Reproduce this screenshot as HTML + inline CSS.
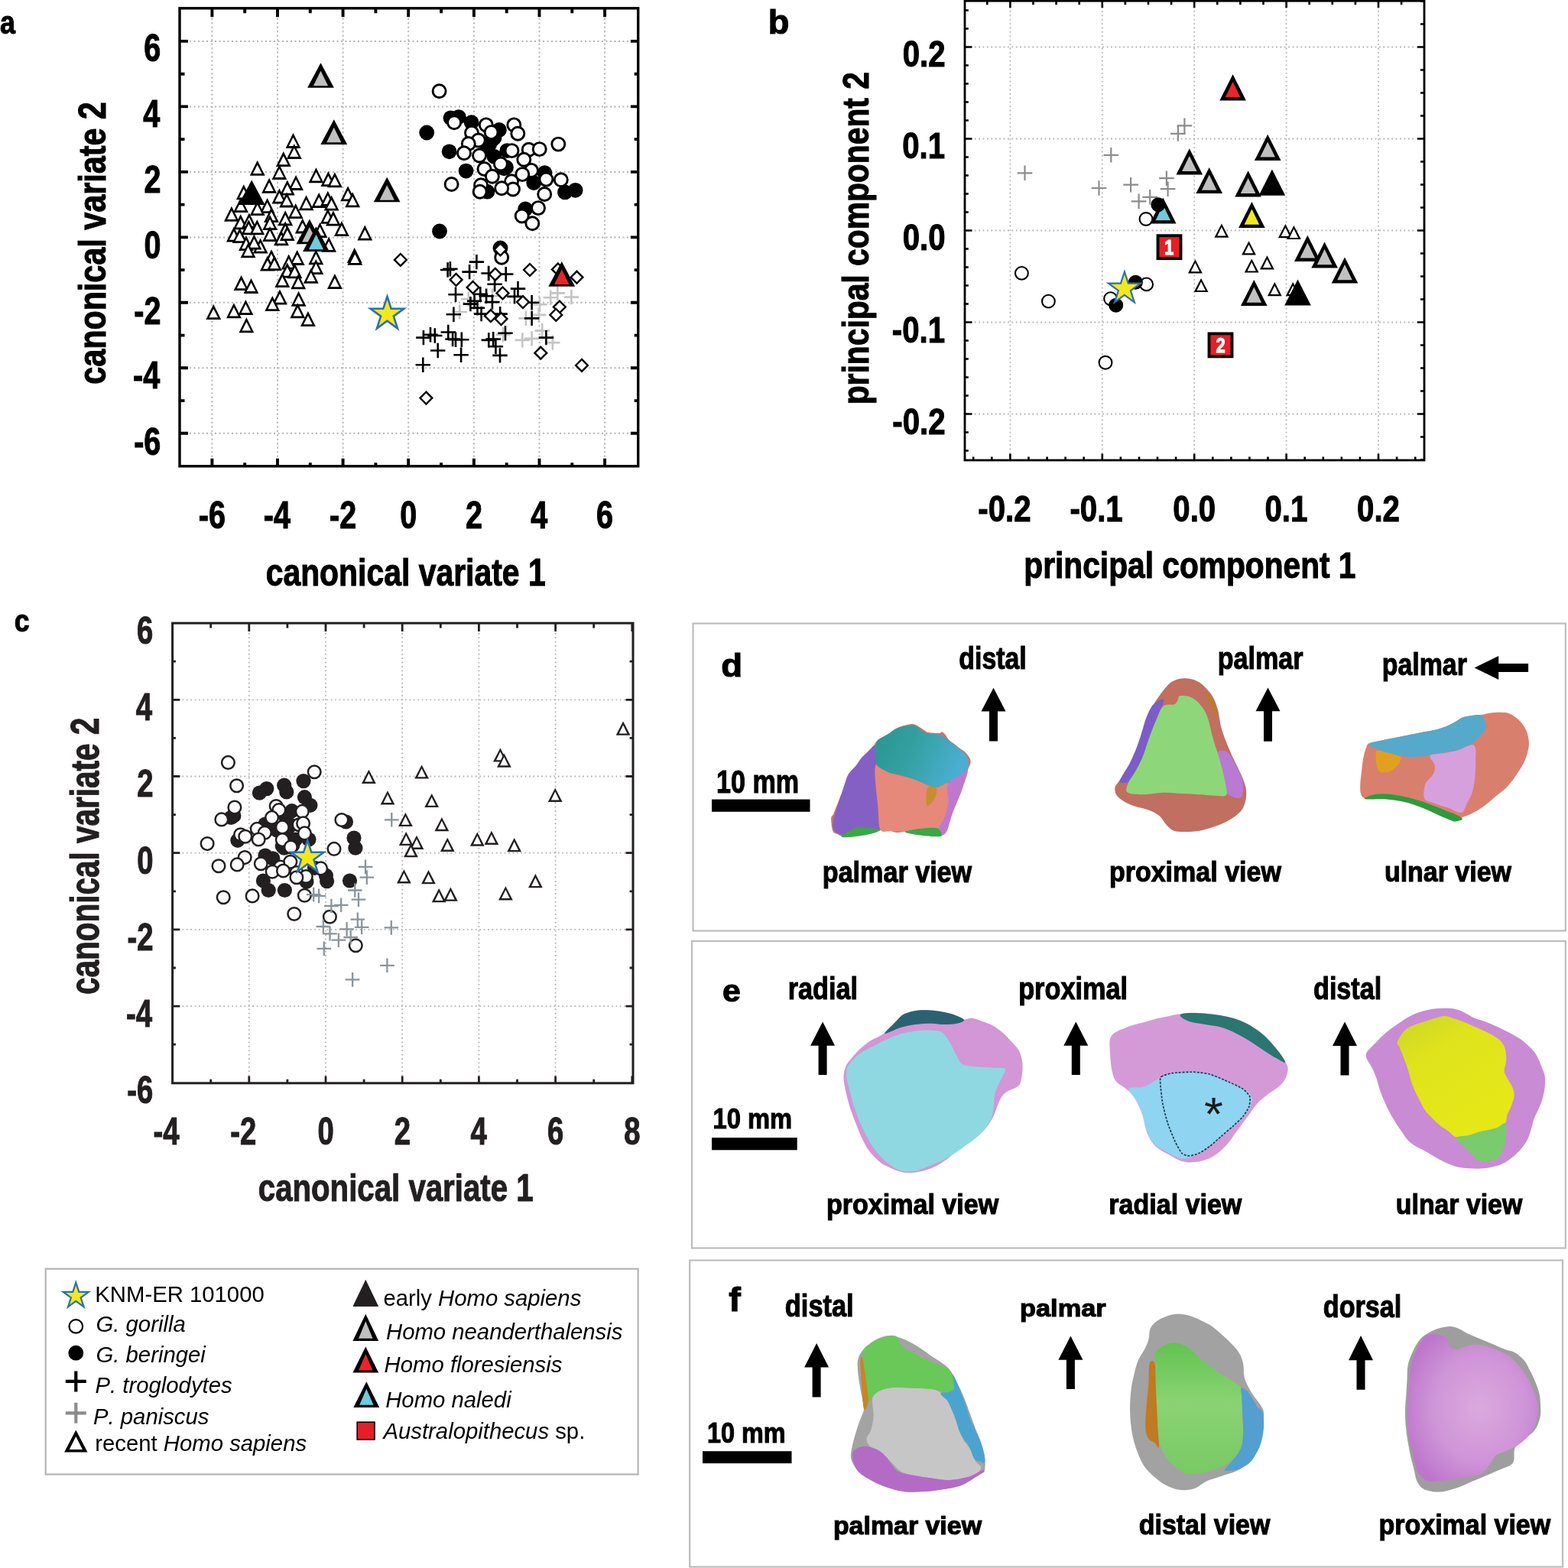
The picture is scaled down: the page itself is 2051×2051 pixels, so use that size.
<!DOCTYPE html>
<html><head><meta charset="utf-8"><title>Figure</title>
<style>
html,body{margin:0;padding:0;background:#fff;}
body{width:2051px;height:2051px;overflow:hidden;}
svg{display:block;}
text{font-kerning:none;}
</style></head><body>
<svg xmlns="http://www.w3.org/2000/svg" width="2051" height="2051" viewBox="0 0 2051 2051">
<rect width="2051" height="2051" fill="#fff"/>
<line x1="277.4" y1="12.8" x2="277.4" y2="607.8" stroke="#b4b4b4" stroke-width="2.0" stroke-dasharray="2 3.5"/>
<line x1="237" y1="566.8" x2="832.7" y2="566.8" stroke="#b4b4b4" stroke-width="2.0" stroke-dasharray="2 3.5"/>
<line x1="363" y1="12.8" x2="363" y2="607.8" stroke="#b4b4b4" stroke-width="2.0" stroke-dasharray="2 3.5"/>
<line x1="237" y1="481.3" x2="832.7" y2="481.3" stroke="#b4b4b4" stroke-width="2.0" stroke-dasharray="2 3.5"/>
<line x1="448.6" y1="12.8" x2="448.6" y2="607.8" stroke="#b4b4b4" stroke-width="2.0" stroke-dasharray="2 3.5"/>
<line x1="237" y1="395.8" x2="832.7" y2="395.8" stroke="#b4b4b4" stroke-width="2.0" stroke-dasharray="2 3.5"/>
<line x1="534.2" y1="12.8" x2="534.2" y2="607.8" stroke="#b4b4b4" stroke-width="2.0" stroke-dasharray="2 3.5"/>
<line x1="237" y1="310.4" x2="832.7" y2="310.4" stroke="#b4b4b4" stroke-width="2.0" stroke-dasharray="2 3.5"/>
<line x1="619.9" y1="12.8" x2="619.9" y2="607.8" stroke="#b4b4b4" stroke-width="2.0" stroke-dasharray="2 3.5"/>
<line x1="237" y1="224.9" x2="832.7" y2="224.9" stroke="#b4b4b4" stroke-width="2.0" stroke-dasharray="2 3.5"/>
<line x1="705.5" y1="12.8" x2="705.5" y2="607.8" stroke="#b4b4b4" stroke-width="2.0" stroke-dasharray="2 3.5"/>
<line x1="237" y1="139.4" x2="832.7" y2="139.4" stroke="#b4b4b4" stroke-width="2.0" stroke-dasharray="2 3.5"/>
<line x1="791.1" y1="12.8" x2="791.1" y2="607.8" stroke="#b4b4b4" stroke-width="2.0" stroke-dasharray="2 3.5"/>
<line x1="237" y1="53.9" x2="832.7" y2="53.9" stroke="#b4b4b4" stroke-width="2.0" stroke-dasharray="2 3.5"/>
<path d="M277.4 10.8L277.4 22.3M277.4 609.8L277.4 599.8M235 566.8L246 566.8M834.7 566.8L824.9 566.8M320.2 10.8L320.2 17.3M320.2 609.8L320.2 605.3M235 524.1L241.5 524.1M834.7 524.1L829.7 524.1M363 10.8L363 22.3M363 609.8L363 599.8M235 481.3L246 481.3M834.7 481.3L824.9 481.3M405.8 10.8L405.8 17.3M405.8 609.8L405.8 605.3M235 438.6L241.5 438.6M834.7 438.6L829.7 438.6M448.6 10.8L448.6 22.3M448.6 609.8L448.6 599.8M235 395.8L246 395.8M834.7 395.8L824.9 395.8M491.4 10.8L491.4 17.3M491.4 609.8L491.4 605.3M235 353.1L241.5 353.1M834.7 353.1L829.7 353.1M534.2 10.8L534.2 22.3M534.2 609.8L534.2 599.8M235 310.4L246 310.4M834.7 310.4L824.9 310.4M577.1 10.8L577.1 17.3M577.1 609.8L577.1 605.3M235 267.6L241.5 267.6M834.7 267.6L829.7 267.6M619.9 10.8L619.9 22.3M619.9 609.8L619.9 599.8M235 224.9L246 224.9M834.7 224.9L824.9 224.9M662.7 10.8L662.7 17.3M662.7 609.8L662.7 605.3M235 182.1L241.5 182.1M834.7 182.1L829.7 182.1M705.5 10.8L705.5 22.3M705.5 609.8L705.5 599.8M235 139.4L246 139.4M834.7 139.4L824.9 139.4M748.3 10.8L748.3 17.3M748.3 609.8L748.3 605.3M235 96.7L241.5 96.7M834.7 96.7L829.7 96.7M791.1 10.8L791.1 22.3M791.1 609.8L791.1 599.8M235 53.9L246 53.9M834.7 53.9L824.9 53.9" stroke="#000" stroke-width="3.9" fill="none"/>
<rect x="235" y="10.8" width="599.7" height="599" fill="none" stroke="#000" stroke-width="3.4"/>
<polygon points="383.5,173.9 373.6,193.9 393.4,193.9" fill="#000"/><polygon points="383.5,179.7 377.7,191.1 389.3,191.1" fill="#fff"/>
<polygon points="384.8,187.9 374.9,207.9 394.7,207.9" fill="#000"/><polygon points="384.8,193.7 379,205.1 390.6,205.1" fill="#fff"/>
<polygon points="370.8,198.1 360.9,218.1 380.7,218.1" fill="#000"/><polygon points="370.8,203.9 365,215.3 376.6,215.3" fill="#fff"/>
<polygon points="336.7,209.7 326.8,229.7 346.6,229.7" fill="#000"/><polygon points="336.7,215.5 330.9,226.9 342.5,226.9" fill="#fff"/>
<polygon points="365.4,214.9 355.5,234.9 375.3,234.9" fill="#000"/><polygon points="365.4,220.7 359.6,232.1 371.2,232.1" fill="#fff"/>
<polygon points="413.5,219.2 403.6,239.2 423.4,239.2" fill="#000"/><polygon points="413.5,225 407.7,236.4 419.3,236.4" fill="#fff"/>
<polygon points="429.4,224.1 419.5,244.1 439.3,244.1" fill="#000"/><polygon points="429.4,229.9 423.6,241.3 435.2,241.3" fill="#fff"/>
<polygon points="437.9,225.3 428,245.3 447.8,245.3" fill="#000"/><polygon points="437.9,231.1 432.1,242.5 443.7,242.5" fill="#fff"/>
<polygon points="387.1,228.9 377.2,248.9 397,248.9" fill="#000"/><polygon points="387.1,234.7 381.3,246.1 392.9,246.1" fill="#fff"/>
<polygon points="352.1,232.7 342.2,252.7 362,252.7" fill="#000"/><polygon points="352.1,238.5 346.3,249.9 357.9,249.9" fill="#fff"/>
<polygon points="318.8,241.3 308.9,261.3 328.7,261.3" fill="#000"/><polygon points="318.8,247.1 313,258.5 324.6,258.5" fill="#fff"/>
<polygon points="375.8,235.5 365.9,255.5 385.7,255.5" fill="#000"/><polygon points="375.8,241.3 370,252.7 381.6,252.7" fill="#fff"/>
<polygon points="365.4,246.5 355.5,266.5 375.3,266.5" fill="#000"/><polygon points="365.4,252.3 359.6,263.7 371.2,263.7" fill="#fff"/>
<polygon points="375.1,251.4 365.2,271.4 385,271.4" fill="#000"/><polygon points="375.1,257.2 369.3,268.6 380.9,268.6" fill="#fff"/>
<polygon points="455.1,243.3 445.2,263.3 465,263.3" fill="#000"/><polygon points="455.1,249.1 449.3,260.5 460.9,260.5" fill="#fff"/>
<polygon points="461.2,251.3 451.3,271.3 471.1,271.3" fill="#000"/><polygon points="461.2,257.1 455.4,268.5 467,268.5" fill="#fff"/>
<polygon points="417.2,251.9 407.3,271.9 427.1,271.9" fill="#000"/><polygon points="417.2,257.7 411.4,269.1 423,269.1" fill="#fff"/>
<polygon points="428.8,249.7 418.9,269.7 438.7,269.7" fill="#000"/><polygon points="428.8,255.5 423,266.9 434.6,266.9" fill="#fff"/>
<polygon points="433.6,255.6 423.7,275.6 443.5,275.6" fill="#000"/><polygon points="433.6,261.4 427.8,272.8 439.4,272.8" fill="#fff"/>
<polygon points="400.6,255.2 390.7,275.2 410.5,275.2" fill="#000"/><polygon points="400.6,261 394.8,272.4 406.4,272.4" fill="#fff"/>
<polygon points="349.6,259 339.7,279 359.5,279" fill="#000"/><polygon points="349.6,264.8 343.8,276.2 355.4,276.2" fill="#fff"/>
<polygon points="315,258 305.1,278 324.9,278" fill="#000"/><polygon points="315,263.8 309.2,275.2 320.8,275.2" fill="#fff"/>
<polygon points="336.7,262 326.8,282 346.6,282" fill="#000"/><polygon points="336.7,267.8 330.9,279.2 342.5,279.2" fill="#fff"/>
<polygon points="386.7,266 376.8,286 396.6,286" fill="#000"/><polygon points="386.7,271.8 380.9,283.2 392.5,283.2" fill="#fff"/>
<polygon points="302.9,269.7 293,289.7 312.8,289.7" fill="#000"/><polygon points="302.9,275.5 297.1,286.9 308.7,286.9" fill="#fff"/>
<polygon points="355,271.1 345.1,291.1 364.9,291.1" fill="#000"/><polygon points="355,276.9 349.2,288.3 360.8,288.3" fill="#fff"/>
<polygon points="373.2,275.2 363.3,295.2 383.1,295.2" fill="#000"/><polygon points="373.2,281 367.4,292.4 379,292.4" fill="#fff"/>
<polygon points="428.8,272.7 418.9,292.7 438.7,292.7" fill="#000"/><polygon points="428.8,278.5 423,289.9 434.6,289.9" fill="#fff"/>
<polygon points="435.9,275.5 426,295.5 445.8,295.5" fill="#000"/><polygon points="435.9,281.3 430.1,292.7 441.7,292.7" fill="#fff"/>
<polygon points="314.7,280.2 304.8,300.2 324.6,300.2" fill="#000"/><polygon points="314.7,286 308.9,297.4 320.5,297.4" fill="#fff"/>
<polygon points="325.9,278.5 316,298.5 335.8,298.5" fill="#000"/><polygon points="325.9,284.3 320.1,295.7 331.7,295.7" fill="#fff"/>
<polygon points="353.1,281 343.2,301 363,301" fill="#000"/><polygon points="353.1,286.8 347.3,298.2 358.9,298.2" fill="#fff"/>
<polygon points="395.8,285.4 385.9,305.4 405.7,305.4" fill="#000"/><polygon points="395.8,291.2 390,302.6 401.6,302.6" fill="#fff"/>
<polygon points="446.9,289 437,309 456.8,309" fill="#000"/><polygon points="446.9,294.8 441.1,306.2 452.7,306.2" fill="#fff"/>
<polygon points="477.3,294.5 467.4,314.5 487.2,314.5" fill="#000"/><polygon points="477.3,300.3 471.5,311.7 483.1,311.7" fill="#fff"/>
<polygon points="373.2,289.6 363.3,309.6 383.1,309.6" fill="#000"/><polygon points="373.2,295.4 367.4,306.8 379,306.8" fill="#fff"/>
<polygon points="325.3,287.3 315.4,307.3 335.2,307.3" fill="#000"/><polygon points="325.3,293.1 319.5,304.5 331.1,304.5" fill="#fff"/>
<polygon points="336.3,287.3 326.4,307.3 346.2,307.3" fill="#000"/><polygon points="336.3,293.1 330.5,304.5 342.1,304.5" fill="#fff"/>
<polygon points="305.9,296.6 296,316.6 315.8,316.6" fill="#000"/><polygon points="305.9,302.4 300.1,313.8 311.7,313.8" fill="#fff"/>
<polygon points="313.6,298.1 303.7,318.1 323.5,318.1" fill="#000"/><polygon points="313.6,303.9 307.8,315.3 319.4,315.3" fill="#fff"/>
<polygon points="418.5,291 408.6,311 428.4,311" fill="#000"/><polygon points="418.5,296.8 412.7,308.2 424.3,308.2" fill="#fff"/>
<polygon points="430.1,309.7 420.2,329.7 440,329.7" fill="#000"/><polygon points="430.1,315.5 424.3,326.9 435.9,326.9" fill="#fff"/>
<polygon points="353.1,296 343.2,316 363,316" fill="#000"/><polygon points="353.1,301.8 347.3,313.2 358.9,313.2" fill="#fff"/>
<polygon points="368,301.2 358.1,321.2 377.9,321.2" fill="#000"/><polygon points="368,307 362.2,318.4 373.8,318.4" fill="#fff"/>
<polygon points="375.8,295 365.9,315 385.7,315" fill="#000"/><polygon points="375.8,300.8 370,312.2 381.6,312.2" fill="#fff"/>
<polygon points="322,308 312.1,328 331.9,328" fill="#000"/><polygon points="322,313.8 316.2,325.2 327.8,325.2" fill="#fff"/>
<polygon points="340.6,311.5 330.7,331.5 350.5,331.5" fill="#000"/><polygon points="340.6,317.3 334.8,328.7 346.4,328.7" fill="#fff"/>
<polygon points="332.4,306.5 322.5,326.5 342.3,326.5" fill="#000"/><polygon points="332.4,312.3 326.6,323.7 338.2,323.7" fill="#fff"/>
<polygon points="463.7,324.1 453.8,344.1 473.6,344.1" fill="#000"/><polygon points="463.7,329.9 457.9,341.3 469.5,341.3" fill="#fff"/>
<polygon points="324.6,317.2 314.7,337.2 334.5,337.2" fill="#000"/><polygon points="324.6,323 318.8,334.4 330.4,334.4" fill="#fff"/>
<polygon points="355,326.2 345.1,346.2 364.9,346.2" fill="#000"/><polygon points="355,332 349.2,343.4 360.8,343.4" fill="#fff"/>
<polygon points="388.7,326.9 378.8,346.9 398.6,346.9" fill="#000"/><polygon points="388.7,332.7 382.9,344.1 394.5,344.1" fill="#fff"/>
<polygon points="413.3,326.2 403.4,346.2 423.2,346.2" fill="#000"/><polygon points="413.3,332 407.5,343.4 419.1,343.4" fill="#fff"/>
<polygon points="377.7,332.5 367.8,352.5 387.6,352.5" fill="#000"/><polygon points="377.7,338.3 371.9,349.7 383.5,349.7" fill="#fff"/>
<polygon points="349.9,334.6 340,354.6 359.8,354.6" fill="#000"/><polygon points="349.9,340.4 344.1,351.8 355.7,351.8" fill="#fff"/>
<polygon points="358.9,334.1 349,354.1 368.8,354.1" fill="#000"/><polygon points="358.9,339.9 353.1,351.3 364.7,351.3" fill="#fff"/>
<polygon points="375.8,343.6 365.9,363.6 385.7,363.6" fill="#000"/><polygon points="375.8,349.4 370,360.8 381.6,360.8" fill="#fff"/>
<polygon points="385.5,344.2 375.6,364.2 395.4,364.2" fill="#000"/><polygon points="385.5,350 379.7,361.4 391.3,361.4" fill="#fff"/>
<polygon points="413.3,339 403.4,359 423.2,359" fill="#000"/><polygon points="413.3,344.8 407.5,356.2 419.1,356.2" fill="#fff"/>
<polygon points="406.8,350.7 396.9,370.7 416.7,370.7" fill="#000"/><polygon points="406.8,356.5 401,367.9 412.6,367.9" fill="#fff"/>
<polygon points="315.6,360.1 305.7,380.1 325.5,380.1" fill="#000"/><polygon points="315.6,365.9 309.8,377.3 321.4,377.3" fill="#fff"/>
<polygon points="369.3,356.1 359.4,376.1 379.2,376.1" fill="#000"/><polygon points="369.3,361.9 363.5,373.3 375.1,373.3" fill="#fff"/>
<polygon points="437.9,358 428,378 447.8,378" fill="#000"/><polygon points="437.9,363.8 432.1,375.2 443.7,375.2" fill="#fff"/>
<polygon points="328.5,363.9 318.6,383.9 338.4,383.9" fill="#000"/><polygon points="328.5,369.7 322.7,381.1 334.3,381.1" fill="#fff"/>
<polygon points="366,378.5 356.1,398.5 375.9,398.5" fill="#000"/><polygon points="366,384.3 360.2,395.7 371.8,395.7" fill="#fff"/>
<polygon points="390.2,358.3 380.3,378.3 400.1,378.3" fill="#000"/><polygon points="390.2,364.1 384.4,375.5 396,375.5" fill="#fff"/>
<polygon points="390.6,380.7 380.7,400.7 400.5,400.7" fill="#000"/><polygon points="390.6,386.5 384.8,397.9 396.4,397.9" fill="#fff"/>
<polygon points="356.3,387 346.4,407 366.2,407" fill="#000"/><polygon points="356.3,392.8 350.5,404.2 362.1,404.2" fill="#fff"/>
<polygon points="279.3,398.1 269.4,418.1 289.2,418.1" fill="#000"/><polygon points="279.3,403.9 273.5,415.3 285.1,415.3" fill="#fff"/>
<polygon points="305.9,396.3 296,416.3 315.8,416.3" fill="#000"/><polygon points="305.9,402.1 300.1,413.5 311.7,413.5" fill="#fff"/>
<polygon points="321.4,392 311.5,412 331.3,412" fill="#000"/><polygon points="321.4,397.8 315.6,409.2 327.2,409.2" fill="#fff"/>
<polygon points="389.3,396.3 379.4,416.3 399.2,416.3" fill="#000"/><polygon points="389.3,402.1 383.5,413.5 395.1,413.5" fill="#fff"/>
<polygon points="402.9,407.1 393,427.1 412.8,427.1" fill="#000"/><polygon points="402.9,412.9 397.1,424.3 408.7,424.3" fill="#fff"/>
<polygon points="322.4,415.2 312.5,435.2 332.3,435.2" fill="#000"/><polygon points="322.4,421 316.6,432.4 328.2,432.4" fill="#fff"/>
<polygon points="464.3,326.8 454.4,346.8 474.2,346.8" fill="#000"/><polygon points="464.3,332.6 458.5,344 470.1,344" fill="#fff"/>
<circle cx="558.2" cy="173.5" r="9.9" fill="#000"/>
<circle cx="589.5" cy="154.3" r="9.9" fill="#000"/>
<circle cx="599.9" cy="153.1" r="9.9" fill="#000"/>
<circle cx="616.7" cy="160.2" r="9.9" fill="#000"/>
<circle cx="652.9" cy="169.9" r="9.9" fill="#000"/>
<circle cx="643.9" cy="182.8" r="9.9" fill="#000"/>
<circle cx="587.6" cy="198.3" r="9.9" fill="#000"/>
<circle cx="637.4" cy="194.5" r="9.9" fill="#000"/>
<circle cx="646.5" cy="204.8" r="9.9" fill="#000"/>
<circle cx="663.3" cy="197.1" r="9.9" fill="#000"/>
<circle cx="659.4" cy="220.3" r="9.9" fill="#000"/>
<circle cx="609.6" cy="223.6" r="9.9" fill="#000"/>
<circle cx="712.5" cy="226.2" r="9.9" fill="#000"/>
<circle cx="698.2" cy="239.1" r="9.9" fill="#000"/>
<circle cx="637.4" cy="250.7" r="9.9" fill="#000"/>
<circle cx="739" cy="251.4" r="9.9" fill="#000"/>
<circle cx="752.6" cy="248.8" r="9.9" fill="#000"/>
<circle cx="687.2" cy="273.4" r="9.9" fill="#000"/>
<circle cx="575" cy="302.5" r="9.9" fill="#000"/>
<circle cx="654.5" cy="324.5" r="9.9" fill="#000"/>
<circle cx="640" cy="189.3" r="9.9" fill="#000"/>
<circle cx="646.5" cy="180.2" r="9.9" fill="#000"/>
<circle cx="662" cy="219" r="9.9" fill="#000"/>
<circle cx="574.6" cy="119.2" r="8.5" fill="#fff" stroke="#000" stroke-width="2.9"/>
<circle cx="594.1" cy="160.2" r="8.5" fill="#fff" stroke="#000" stroke-width="2.9"/>
<circle cx="635.8" cy="163.4" r="8.5" fill="#fff" stroke="#000" stroke-width="2.9"/>
<circle cx="642.6" cy="173.1" r="8.5" fill="#fff" stroke="#000" stroke-width="2.9"/>
<circle cx="672.3" cy="163.4" r="8.5" fill="#fff" stroke="#000" stroke-width="2.9"/>
<circle cx="677.3" cy="174.8" r="8.5" fill="#fff" stroke="#000" stroke-width="2.9"/>
<circle cx="617" cy="173.8" r="8.5" fill="#fff" stroke="#000" stroke-width="2.9"/>
<circle cx="625.8" cy="183.5" r="8.5" fill="#fff" stroke="#000" stroke-width="2.9"/>
<circle cx="612.8" cy="188" r="8.5" fill="#fff" stroke="#000" stroke-width="2.9"/>
<circle cx="607" cy="200.3" r="8.5" fill="#fff" stroke="#000" stroke-width="2.9"/>
<circle cx="627.1" cy="203.5" r="8.5" fill="#fff" stroke="#000" stroke-width="2.9"/>
<circle cx="669.5" cy="197.1" r="8.5" fill="#fff" stroke="#000" stroke-width="2.9"/>
<circle cx="691.7" cy="195.8" r="8.5" fill="#fff" stroke="#000" stroke-width="2.9"/>
<circle cx="705.7" cy="195.1" r="8.5" fill="#fff" stroke="#000" stroke-width="2.9"/>
<circle cx="730.3" cy="188.6" r="8.5" fill="#fff" stroke="#000" stroke-width="2.9"/>
<circle cx="685.3" cy="208.7" r="8.5" fill="#fff" stroke="#000" stroke-width="2.9"/>
<circle cx="654.9" cy="214.5" r="8.5" fill="#fff" stroke="#000" stroke-width="2.9"/>
<circle cx="633.5" cy="221" r="8.5" fill="#fff" stroke="#000" stroke-width="2.9"/>
<circle cx="643.9" cy="230.7" r="8.5" fill="#fff" stroke="#000" stroke-width="2.9"/>
<circle cx="695" cy="222.9" r="8.5" fill="#fff" stroke="#000" stroke-width="2.9"/>
<circle cx="683.3" cy="228.1" r="8.5" fill="#fff" stroke="#000" stroke-width="2.9"/>
<circle cx="714.4" cy="234.6" r="8.5" fill="#fff" stroke="#000" stroke-width="2.9"/>
<circle cx="733.8" cy="235.2" r="8.5" fill="#fff" stroke="#000" stroke-width="2.9"/>
<circle cx="669.1" cy="237.2" r="8.5" fill="#fff" stroke="#000" stroke-width="2.9"/>
<circle cx="671" cy="247.5" r="8.5" fill="#fff" stroke="#000" stroke-width="2.9"/>
<circle cx="656.2" cy="246.2" r="8.5" fill="#fff" stroke="#000" stroke-width="2.9"/>
<circle cx="590.6" cy="241" r="8.5" fill="#fff" stroke="#000" stroke-width="2.9"/>
<circle cx="629" cy="242.3" r="8.5" fill="#fff" stroke="#000" stroke-width="2.9"/>
<circle cx="627.7" cy="250.7" r="8.5" fill="#fff" stroke="#000" stroke-width="2.9"/>
<circle cx="712.2" cy="254" r="8.5" fill="#fff" stroke="#000" stroke-width="2.9"/>
<circle cx="704" cy="272.1" r="8.5" fill="#fff" stroke="#000" stroke-width="2.9"/>
<circle cx="682.7" cy="282.5" r="8.5" fill="#fff" stroke="#000" stroke-width="2.9"/>
<circle cx="696.3" cy="292.2" r="8.5" fill="#fff" stroke="#000" stroke-width="2.9"/>
<circle cx="656.2" cy="336.8" r="8.5" fill="#fff" stroke="#000" stroke-width="2.9"/>
<path d="M719.6 383.4H739M729.3 373.7V393.1" stroke="#c4c4c4" stroke-width="2.6" fill="none"/>
<path d="M710.5 389.2H729.9M720.2 379.5V398.9" stroke="#c4c4c4" stroke-width="2.6" fill="none"/>
<path d="M737.7 388.6H757.1M747.4 378.9V398.3" stroke="#c4c4c4" stroke-width="2.6" fill="none"/>
<path d="M696.3 398.3H715.7M706 388.6V408" stroke="#c4c4c4" stroke-width="2.6" fill="none"/>
<path d="M695 411.9H714.4M704.7 402.2V421.6" stroke="#c4c4c4" stroke-width="2.6" fill="none"/>
<path d="M678.2 416.4H697.6M687.9 406.7V426.1" stroke="#c4c4c4" stroke-width="2.6" fill="none"/>
<path d="M591.5 408H610.9M601.2 398.3V417.7" stroke="#c4c4c4" stroke-width="2.6" fill="none"/>
<path d="M699.5 432.6H718.9M709.2 422.9V442.3" stroke="#c4c4c4" stroke-width="2.6" fill="none"/>
<path d="M673.6 444.9H693M683.3 435.2V454.6" stroke="#c4c4c4" stroke-width="2.6" fill="none"/>
<path d="M685.9 442.9H705.3M695.6 433.2V452.6" stroke="#c4c4c4" stroke-width="2.6" fill="none"/>
<path d="M713.1 448.1H732.5M722.8 438.4V457.8" stroke="#c4c4c4" stroke-width="2.6" fill="none"/>
<path d="M648.4 437.8H667.8M658.1 428.1V447.5" stroke="#c4c4c4" stroke-width="2.6" fill="none"/>
<path d="M628.3 357.5H647.7M638 347.8V367.2" stroke="#c4c4c4" stroke-width="2.6" fill="none"/>
<path d="M603.1 391.2H622.5M612.8 381.5V400.9" stroke="#c4c4c4" stroke-width="2.6" fill="none"/>
<path d="M634.2 387.3H653.6M643.9 377.6V397" stroke="#c4c4c4" stroke-width="2.6" fill="none"/>
<path d="M575.9 353H595.3M585.6 343.3V362.7" stroke="#000" stroke-width="2.6" fill="none"/>
<path d="M579.2 351.7H598.6M588.9 342V361.4" stroke="#000" stroke-width="2.6" fill="none"/>
<path d="M604.4 355.6H623.8M614.1 345.9V365.3" stroke="#000" stroke-width="2.6" fill="none"/>
<path d="M613.7 342.6H633.1M623.4 332.9V352.3" stroke="#000" stroke-width="2.6" fill="none"/>
<path d="M629.6 357.5H649M639.3 347.8V367.2" stroke="#000" stroke-width="2.6" fill="none"/>
<path d="M652 358.6H671.4M661.7 348.9V368.3" stroke="#000" stroke-width="2.6" fill="none"/>
<path d="M637.4 371.8H656.8M647.1 362.1V381.5" stroke="#000" stroke-width="2.6" fill="none"/>
<path d="M667.8 377.6H687.2M677.5 367.9V387.3" stroke="#000" stroke-width="2.6" fill="none"/>
<path d="M586.3 385.3H605.7M596 375.6V395" stroke="#000" stroke-width="2.6" fill="none"/>
<path d="M663.3 387.9H682.7M673 378.2V397.6" stroke="#000" stroke-width="2.6" fill="none"/>
<path d="M685.9 395.7H705.3M695.6 386V405.4" stroke="#000" stroke-width="2.6" fill="none"/>
<path d="M605.7 397.6H625.1M615.4 387.9V407.3" stroke="#000" stroke-width="2.6" fill="none"/>
<path d="M610.9 393.8H630.3M620.6 384.1V403.5" stroke="#000" stroke-width="2.6" fill="none"/>
<path d="M618.6 384.7H638M628.3 375V394.4" stroke="#000" stroke-width="2.6" fill="none"/>
<path d="M626.4 387.3H645.8M636.1 377.6V397" stroke="#000" stroke-width="2.6" fill="none"/>
<path d="M614.8 402.8H634.2M624.5 393.1V412.5" stroke="#000" stroke-width="2.6" fill="none"/>
<path d="M619.9 410.6H639.3M629.6 400.9V420.3" stroke="#000" stroke-width="2.6" fill="none"/>
<path d="M634.2 395.1H653.6M643.9 385.4V404.8" stroke="#000" stroke-width="2.6" fill="none"/>
<path d="M644.5 410.6H663.9M654.2 400.9V420.3" stroke="#000" stroke-width="2.6" fill="none"/>
<path d="M583.7 411.2H603.1M593.4 401.5V420.9" stroke="#000" stroke-width="2.6" fill="none"/>
<path d="M685.9 416.4H705.3M695.6 406.7V426.1" stroke="#000" stroke-width="2.6" fill="none"/>
<path d="M544.2 441.6H563.6M553.9 431.9V451.3" stroke="#000" stroke-width="2.6" fill="none"/>
<path d="M553.3 437.8H572.7M563 428.1V447.5" stroke="#000" stroke-width="2.6" fill="none"/>
<path d="M559.1 439H578.5M568.8 429.3V448.7" stroke="#000" stroke-width="2.6" fill="none"/>
<path d="M576.6 434.5H596M586.3 424.8V444.2" stroke="#000" stroke-width="2.6" fill="none"/>
<path d="M582.4 443.6H601.8M592.1 433.9V453.3" stroke="#000" stroke-width="2.6" fill="none"/>
<path d="M586.3 444.2H605.7M596 434.5V453.9" stroke="#000" stroke-width="2.6" fill="none"/>
<path d="M594.1 444.2H613.5M603.8 434.5V453.9" stroke="#000" stroke-width="2.6" fill="none"/>
<path d="M563 458.5H582.4M572.7 448.8V468.2" stroke="#000" stroke-width="2.6" fill="none"/>
<path d="M593.4 464.3H612.8M603.1 454.6V474" stroke="#000" stroke-width="2.6" fill="none"/>
<path d="M543.6 477.2H563M553.3 467.5V486.9" stroke="#000" stroke-width="2.6" fill="none"/>
<path d="M629.6 444.9H649M639.3 435.2V454.6" stroke="#000" stroke-width="2.6" fill="none"/>
<path d="M635.5 443.6H654.9M645.2 433.9V453.3" stroke="#000" stroke-width="2.6" fill="none"/>
<path d="M651.3 435.8H670.7M661 426.1V445.5" stroke="#000" stroke-width="2.6" fill="none"/>
<path d="M638.7 453.3H658.1M648.4 443.6V463" stroke="#000" stroke-width="2.6" fill="none"/>
<path d="M644.3 464.9H663.7M654 455.2V474.6" stroke="#000" stroke-width="2.6" fill="none"/>
<path d="M704.7 441.6H724.1M714.4 431.9V451.3" stroke="#000" stroke-width="2.6" fill="none"/>
<polygon points="596.6,358 604.5,365.9 596.6,373.8 588.7,365.9" fill="#fff" stroke="#000" stroke-width="2.4"/>
<polygon points="618.6,368 626.5,375.9 618.6,383.8 610.7,375.9" fill="#fff" stroke="#000" stroke-width="2.4"/>
<polygon points="647.8,350.9 655.7,358.8 647.8,366.7 639.9,358.8" fill="#fff" stroke="#000" stroke-width="2.4"/>
<polygon points="657.5,375.5 665.4,383.4 657.5,391.3 649.6,383.4" fill="#fff" stroke="#000" stroke-width="2.4"/>
<polygon points="684,387.2 691.9,395.1 684,403 676.1,395.1" fill="#fff" stroke="#000" stroke-width="2.4"/>
<polygon points="693,345.1 700.9,353 693,360.9 685.1,353" fill="#fff" stroke="#000" stroke-width="2.4"/>
<polygon points="729.9,344.5 737.8,352.4 729.9,360.3 722,352.4" fill="#fff" stroke="#000" stroke-width="2.4"/>
<polygon points="754.5,354.8 762.4,362.7 754.5,370.6 746.6,362.7" fill="#fff" stroke="#000" stroke-width="2.4"/>
<polygon points="731.9,393.6 739.8,401.5 731.9,409.4 724,401.5" fill="#fff" stroke="#000" stroke-width="2.4"/>
<polygon points="727.3,404 735.2,411.9 727.3,419.8 719.4,411.9" fill="#fff" stroke="#000" stroke-width="2.4"/>
<polygon points="641.9,405.3 649.8,413.2 641.9,421.1 634,413.2" fill="#fff" stroke="#000" stroke-width="2.4"/>
<polygon points="655.5,409.2 663.4,417.1 655.5,425 647.6,417.1" fill="#fff" stroke="#000" stroke-width="2.4"/>
<polygon points="707.3,453.8 715.2,461.7 707.3,469.6 699.4,461.7" fill="#fff" stroke="#000" stroke-width="2.4"/>
<polygon points="761,470 768.9,477.9 761,485.8 753.1,477.9" fill="#fff" stroke="#000" stroke-width="2.4"/>
<polygon points="557.4,512.7 565.3,520.6 557.4,528.5 549.5,520.6" fill="#fff" stroke="#000" stroke-width="2.4"/>
<polygon points="523.9,332 531.8,339.9 523.9,347.8 516,339.9" fill="#fff" stroke="#000" stroke-width="2.4"/>
<polygon points="654.5,318.5 662.4,326.4 654.5,334.3 646.6,326.4" fill="#fff" stroke="#000" stroke-width="2.4"/>
<polygon points="419.5,82.2 402.1,114.8 436.9,114.8" fill="#000"/><polygon points="419.5,92.7 409.9,112.2 429.1,112.2" fill="#c0c0c0"/>
<polygon points="436.8,156.3 419.4,188.9 454.2,188.9" fill="#000"/><polygon points="436.8,166.8 427.2,186.3 446.4,186.3" fill="#c0c0c0"/>
<polygon points="506.2,231.7 488.8,264.3 523.5,264.3" fill="#000"/><polygon points="506.2,242.2 496.6,261.7 515.9,261.7" fill="#c0c0c0"/>
<polygon points="404.9,286.6 387.5,319.2 422.2,319.2" fill="#000"/><polygon points="404.9,297.1 395.2,316.6 414.5,316.6" fill="#c0c0c0"/>
<polygon points="329.2,235.5 311.8,268.1 346.6,268.1" fill="#000"/>
<polygon points="413.5,296.3 396.1,328.9 430.9,328.9" fill="#000"/><polygon points="413.5,306.8 403.9,326.3 423.1,326.3" fill="#6fcadc"/>
<polygon points="734.8,342.1 717.4,374.7 752.1,374.7" fill="#000"/><polygon points="734.8,352.6 725.1,372.1 744.4,372.1" fill="#e8252a"/>
<polygon points="506.5,387.9 511.7,403.8 528.4,403.8 514.9,413.6 520,429.5 506.5,419.7 493,429.5 498.1,413.6 484.6,403.8 501.3,403.8" fill="#f3e81c" stroke="#2a6fb3" stroke-width="2.6" stroke-linejoin="miter" stroke-miterlimit="10"/>
<text transform="translate(188.35,80.40) scale(0.7772,1)" font-size="50.84" font-family="'Liberation Sans', Arial, sans-serif" font-weight="bold" stroke="#000" stroke-width="1.1">6</text>
<text transform="translate(187.14,165.70) scale(0.7772,1)" font-size="50.84" font-family="'Liberation Sans', Arial, sans-serif" font-weight="bold" stroke="#000" stroke-width="1.1">4</text>
<text transform="translate(188.51,251.80) scale(0.7772,1)" font-size="50.84" font-family="'Liberation Sans', Arial, sans-serif" font-weight="bold" stroke="#000" stroke-width="1.1">2</text>
<text transform="translate(188.55,337.60) scale(0.7772,1)" font-size="50.84" font-family="'Liberation Sans', Arial, sans-serif" font-weight="bold" stroke="#000" stroke-width="1.1">0</text>
<text transform="translate(175.35,423.60) scale(0.7772,1)" font-size="50.84" font-family="'Liberation Sans', Arial, sans-serif" font-weight="bold" stroke="#000" stroke-width="1.1">-2</text>
<text transform="translate(173.98,508.30) scale(0.7772,1)" font-size="50.84" font-family="'Liberation Sans', Arial, sans-serif" font-weight="bold" stroke="#000" stroke-width="1.1">-4</text>
<text transform="translate(175.20,594.50) scale(0.7772,1)" font-size="50.84" font-family="'Liberation Sans', Arial, sans-serif" font-weight="bold" stroke="#000" stroke-width="1.1">-6</text>
<text transform="translate(259.77,691.00) scale(0.7772,1)" font-size="50.84" font-family="'Liberation Sans', Arial, sans-serif" font-weight="bold" stroke="#000" stroke-width="1.1">-6</text>
<text transform="translate(344.78,691.00) scale(0.7772,1)" font-size="50.84" font-family="'Liberation Sans', Arial, sans-serif" font-weight="bold" stroke="#000" stroke-width="1.1">-4</text>
<text transform="translate(431.08,691.00) scale(0.7772,1)" font-size="50.84" font-family="'Liberation Sans', Arial, sans-serif" font-weight="bold" stroke="#000" stroke-width="1.1">-2</text>
<text transform="translate(523.29,691.00) scale(0.7772,1)" font-size="50.84" font-family="'Liberation Sans', Arial, sans-serif" font-weight="bold" stroke="#000" stroke-width="1.1">0</text>
<text transform="translate(608.99,691.00) scale(0.7772,1)" font-size="50.84" font-family="'Liberation Sans', Arial, sans-serif" font-weight="bold" stroke="#000" stroke-width="1.1">2</text>
<text transform="translate(694.31,691.00) scale(0.7772,1)" font-size="50.84" font-family="'Liberation Sans', Arial, sans-serif" font-weight="bold" stroke="#000" stroke-width="1.1">4</text>
<text transform="translate(780.11,691.00) scale(0.7772,1)" font-size="50.84" font-family="'Liberation Sans', Arial, sans-serif" font-weight="bold" stroke="#000" stroke-width="1.1">6</text>
<text transform="translate(347.65,766.33) scale(0.8125,1)" font-size="50.34" font-family="'Liberation Sans', Arial, sans-serif" font-weight="bold" stroke="#000" stroke-width="1.1">canonical variate 1</text>
<text transform="translate(137.62,502.76) rotate(-90) scale(0.8161,1)" font-size="50.61" font-family="'Liberation Sans', Arial, sans-serif" font-weight="bold" stroke="#000" stroke-width="1.1">canonical variate 2</text>
<text transform="translate(0.00,43.62) scale(0.8317,1)" font-size="43.07" font-family="'Liberation Sans', Arial, sans-serif" font-weight="bold" stroke="#000" stroke-width="1.1">a</text>
<line x1="1321.4" y1="3.2" x2="1321.4" y2="600" stroke="#b4b4b4" stroke-width="1.8" stroke-dasharray="1.8 3.6"/>
<line x1="1264" y1="541.5" x2="1861" y2="541.5" stroke="#b4b4b4" stroke-width="1.8" stroke-dasharray="1.8 3.6"/>
<line x1="1441.8" y1="3.2" x2="1441.8" y2="600" stroke="#b4b4b4" stroke-width="1.8" stroke-dasharray="1.8 3.6"/>
<line x1="1264" y1="421.5" x2="1861" y2="421.5" stroke="#b4b4b4" stroke-width="1.8" stroke-dasharray="1.8 3.6"/>
<line x1="1562.2" y1="3.2" x2="1562.2" y2="600" stroke="#b4b4b4" stroke-width="1.8" stroke-dasharray="1.8 3.6"/>
<line x1="1264" y1="301.5" x2="1861" y2="301.5" stroke="#b4b4b4" stroke-width="1.8" stroke-dasharray="1.8 3.6"/>
<line x1="1682.6" y1="3.2" x2="1682.6" y2="600" stroke="#b4b4b4" stroke-width="1.8" stroke-dasharray="1.8 3.6"/>
<line x1="1264" y1="181.5" x2="1861" y2="181.5" stroke="#b4b4b4" stroke-width="1.8" stroke-dasharray="1.8 3.6"/>
<line x1="1803" y1="3.2" x2="1803" y2="600" stroke="#b4b4b4" stroke-width="1.8" stroke-dasharray="1.8 3.6"/>
<line x1="1264" y1="61.5" x2="1861" y2="61.5" stroke="#b4b4b4" stroke-width="1.8" stroke-dasharray="1.8 3.6"/>
<path d="M1273.2 602L1273.2 597.6M1262 589.5L1266.8 589.5M1297.3 602L1297.3 597.6M1262 565.5L1266.8 565.5M1321.4 602L1321.4 593.5M1262 541.5L1271.5 541.5M1345.5 602L1345.5 597.6M1262 517.5L1266.8 517.5M1369.6 602L1369.6 597.6M1262 493.5L1266.8 493.5M1393.6 602L1393.6 597.6M1262 469.5L1266.8 469.5M1417.7 602L1417.7 597.6M1262 445.5L1266.8 445.5M1441.8 602L1441.8 593.5M1262 421.5L1271.5 421.5M1465.9 602L1465.9 597.6M1262 397.5L1266.8 397.5M1490 602L1490 597.6M1262 373.5L1266.8 373.5M1514 602L1514 597.6M1262 349.5L1266.8 349.5M1538.1 602L1538.1 597.6M1262 325.5L1266.8 325.5M1562.2 602L1562.2 593.5M1262 301.5L1271.5 301.5M1586.3 602L1586.3 597.6M1262 277.5L1266.8 277.5M1610.4 602L1610.4 597.6M1262 253.5L1266.8 253.5M1634.4 602L1634.4 597.6M1262 229.5L1266.8 229.5M1658.5 602L1658.5 597.6M1262 205.5L1266.8 205.5M1682.6 602L1682.6 593.5M1262 181.5L1271.5 181.5M1706.7 602L1706.7 597.6M1262 157.5L1266.8 157.5M1730.8 602L1730.8 597.6M1262 133.5L1266.8 133.5M1754.8 602L1754.8 597.6M1262 109.5L1266.8 109.5M1778.9 602L1778.9 597.6M1262 85.5L1266.8 85.5M1803 602L1803 593.5M1262 61.5L1271.5 61.5M1827.1 602L1827.1 597.6M1262 37.5L1266.8 37.5M1851.2 602L1851.2 597.6M1262 13.5L1266.8 13.5M1863 601.5L1858 601.5M1291.3 1.2L1291.3 6.2M1863 571.5L1858 571.5M1321.4 1.2L1321.4 10.2M1863 541.5L1854 541.5M1351.5 1.2L1351.5 6.2M1863 511.5L1858 511.5M1381.6 1.2L1381.6 6.2M1863 481.5L1858 481.5M1411.7 1.2L1411.7 6.2M1863 451.5L1858 451.5M1441.8 1.2L1441.8 10.2M1863 421.5L1854 421.5M1471.9 1.2L1471.9 6.2M1863 391.5L1858 391.5M1502 1.2L1502 6.2M1863 361.5L1858 361.5M1532.1 1.2L1532.1 6.2M1863 331.5L1858 331.5M1562.2 1.2L1562.2 10.2M1863 301.5L1854 301.5M1592.3 1.2L1592.3 6.2M1863 271.5L1858 271.5M1622.4 1.2L1622.4 6.2M1863 241.5L1858 241.5M1652.5 1.2L1652.5 6.2M1863 211.5L1858 211.5M1682.6 1.2L1682.6 10.2M1863 181.5L1854 181.5M1712.7 1.2L1712.7 6.2M1863 151.5L1858 151.5M1742.8 1.2L1742.8 6.2M1863 121.5L1858 121.5M1772.9 1.2L1772.9 6.2M1863 91.5L1858 91.5M1803 1.2L1803 10.2M1863 61.5L1854 61.5M1833.1 1.2L1833.1 6.2M1863 31.5L1858 31.5M1863 1.5L1858 1.5" stroke="#000" stroke-width="2.6" fill="none"/>
<rect x="1262" y="1.2" width="601" height="600.8" fill="none" stroke="#000" stroke-width="2.8"/>
<path d="M1330.7 226.3H1350.3M1340.5 216.5V236.1" stroke="#8c8c8c" stroke-width="2.2" fill="none"/>
<path d="M1443.5 202.8H1463.1M1453.3 193V212.6" stroke="#8c8c8c" stroke-width="2.2" fill="none"/>
<path d="M1427.7 246H1447.3M1437.5 236.2V255.8" stroke="#8c8c8c" stroke-width="2.2" fill="none"/>
<path d="M1469.3 241.7H1488.9M1479.1 231.9V251.5" stroke="#8c8c8c" stroke-width="2.2" fill="none"/>
<path d="M1479.8 263.4H1499.4M1489.6 253.6V273.2" stroke="#8c8c8c" stroke-width="2.2" fill="none"/>
<path d="M1494.4 257.8H1514M1504.2 248V267.6" stroke="#8c8c8c" stroke-width="2.2" fill="none"/>
<path d="M1516.1 233.2H1535.7M1525.9 223.4V243" stroke="#8c8c8c" stroke-width="2.2" fill="none"/>
<path d="M1517.8 247.2H1537.4M1527.6 237.4V257" stroke="#8c8c8c" stroke-width="2.2" fill="none"/>
<path d="M1531.1 174.9H1550.7M1540.9 165.1V184.7" stroke="#8c8c8c" stroke-width="2.2" fill="none"/>
<path d="M1539.6 164.3H1559.2M1549.4 154.5V174.1" stroke="#8c8c8c" stroke-width="2.2" fill="none"/>
<polygon points="1597.9,292.5 1588.5,310.7 1607.3,310.7" fill="#000"/><polygon points="1597.9,297.1 1592.3,308.5 1603.5,308.5" fill="#fff"/>
<polygon points="1681.3,293.1 1671.9,311.3 1690.7,311.3" fill="#000"/><polygon points="1681.3,297.7 1675.7,309.1 1686.9,309.1" fill="#fff"/>
<polygon points="1692.4,294.9 1683,313.1 1701.8,313.1" fill="#000"/><polygon points="1692.4,299.5 1686.8,310.9 1698,310.9" fill="#fff"/>
<polygon points="1633.5,315.3 1624.1,333.5 1642.9,333.5" fill="#000"/><polygon points="1633.5,319.9 1627.9,331.3 1639.1,331.3" fill="#fff"/>
<polygon points="1563.4,339.2 1554,357.4 1572.8,357.4" fill="#000"/><polygon points="1563.4,343.8 1557.8,355.2 1569,355.2" fill="#fff"/>
<polygon points="1637.2,338.4 1627.8,356.6 1646.6,356.6" fill="#000"/><polygon points="1637.2,343 1631.6,354.4 1642.8,354.4" fill="#fff"/>
<polygon points="1657.4,334.3 1648,352.5 1666.8,352.5" fill="#000"/><polygon points="1657.4,338.9 1651.8,350.3 1663,350.3" fill="#fff"/>
<polygon points="1571.1,363.9 1561.7,382.1 1580.5,382.1" fill="#000"/><polygon points="1571.1,368.5 1565.5,379.9 1576.7,379.9" fill="#fff"/>
<polygon points="1667.3,369.1 1657.9,387.3 1676.7,387.3" fill="#000"/><polygon points="1667.3,373.7 1661.7,385.1 1672.9,385.1" fill="#fff"/>
<polygon points="1691.2,369.1 1681.8,387.3 1700.6,387.3" fill="#000"/><polygon points="1691.2,373.7 1685.6,385.1 1696.8,385.1" fill="#fff"/>
<polygon points="1612.6,97.2 1595.3,131.4 1629.9,131.4" fill="#000"/><polygon points="1612.6,106.9 1602.8,127 1622.4,127" fill="#e8252a"/>
<polygon points="1658.2,175.8 1640.9,210 1675.5,210" fill="#000"/><polygon points="1658.2,185.5 1648.4,205.6 1668,205.6" fill="#c0c0c0"/>
<polygon points="1555.8,194.2 1538.5,228.4 1573.1,228.4" fill="#000"/><polygon points="1555.8,203.9 1546,224 1565.6,224" fill="#c0c0c0"/>
<polygon points="1581.7,218.9 1564.4,253.1 1599,253.1" fill="#000"/><polygon points="1581.7,228.6 1571.9,248.7 1591.5,248.7" fill="#c0c0c0"/>
<polygon points="1632.6,223.2 1615.3,257.4 1649.9,257.4" fill="#000"/><polygon points="1632.6,232.9 1622.8,253 1642.4,253" fill="#c0c0c0"/>
<polygon points="1663.9,221.5 1646.6,255.7 1681.2,255.7" fill="#000"/>
<polygon points="1637.4,263.9 1620.1,298.1 1654.7,298.1" fill="#000"/><polygon points="1637.4,273.6 1627.6,293.7 1647.2,293.7" fill="#f0ea1c"/>
<polygon points="1710.3,307.8 1693,342 1727.6,342" fill="#000"/><polygon points="1710.3,317.5 1700.5,337.6 1720.1,337.6" fill="#c0c0c0"/>
<polygon points="1732.6,316.4 1715.3,350.6 1749.9,350.6" fill="#000"/><polygon points="1732.6,326.1 1722.8,346.2 1742.4,346.2" fill="#c0c0c0"/>
<polygon points="1759,336.4 1741.7,370.6 1776.3,370.6" fill="#000"/><polygon points="1759,346.1 1749.2,366.2 1768.8,366.2" fill="#c0c0c0"/>
<polygon points="1640.3,365.9 1623,400.1 1657.6,400.1" fill="#000"/><polygon points="1640.3,375.6 1630.5,395.7 1650.1,395.7" fill="#c0c0c0"/>
<polygon points="1697.5,365.4 1680.2,399.6 1714.8,399.6" fill="#000"/>
<circle cx="1336.4" cy="357.4" r="8.4" fill="#fff" stroke="#000" stroke-width="2.1"/>
<circle cx="1371.4" cy="394.1" r="8.4" fill="#fff" stroke="#000" stroke-width="2.1"/>
<circle cx="1499" cy="286.5" r="8.4" fill="#fff" stroke="#000" stroke-width="2.1"/>
<circle cx="1499.6" cy="371.9" r="8.4" fill="#fff" stroke="#000" stroke-width="2.1"/>
<circle cx="1452.6" cy="390.7" r="8.4" fill="#fff" stroke="#000" stroke-width="2.1"/>
<circle cx="1446" cy="474.3" r="8.4" fill="#fff" stroke="#000" stroke-width="2.1"/>
<polygon points="1521.3,258.4 1504,292.6 1538.6,292.6" fill="#000"/><polygon points="1521.3,268.1 1511.5,288.2 1531.1,288.2" fill="#6fcadc"/>
<circle cx="1514.9" cy="267.7" r="9.5" fill="#000"/>
<circle cx="1485.4" cy="369.3" r="9.5" fill="#000"/>
<circle cx="1459.7" cy="399.3" r="9.5" fill="#000"/>
<rect x="1514.5" y="308.2" width="30" height="30" fill="#e51f26" stroke="#000" stroke-width="3.8"/>
<text transform="translate(1523.00,333.20) scale(0.8000,1)" font-size="27.50" font-family="'Liberation Sans', Arial, sans-serif" font-weight="bold" fill="#fff" stroke="#fff" stroke-width="1.1">1</text>
<rect x="1581.5" y="436.4" width="30" height="30" fill="#e51f26" stroke="#000" stroke-width="3.8"/>
<text transform="translate(1590.44,461.40) scale(0.8000,1)" font-size="27.50" font-family="'Liberation Sans', Arial, sans-serif" font-weight="bold" fill="#fff" stroke="#fff" stroke-width="1.1">2</text>
<polygon points="1470.9,355.5 1475.8,370.7 1491.8,370.7 1478.9,380.1 1483.8,395.3 1470.9,385.9 1458,395.3 1462.9,380.1 1450,370.7 1466,370.7" fill="#f3e81c" stroke="#2a6fb3" stroke-width="2.2" stroke-linejoin="miter" stroke-miterlimit="10"/>
<text transform="translate(1180.71,87.00) scale(0.8283,1)" font-size="48.55" font-family="'Liberation Sans', Arial, sans-serif" font-weight="bold" stroke="#000" stroke-width="1.1">0.2</text>
<text transform="translate(1180.22,207.00) scale(0.8283,1)" font-size="48.55" font-family="'Liberation Sans', Arial, sans-serif" font-weight="bold" stroke="#000" stroke-width="1.1">0.1</text>
<text transform="translate(1180.75,327.10) scale(0.8283,1)" font-size="48.55" font-family="'Liberation Sans', Arial, sans-serif" font-weight="bold" stroke="#000" stroke-width="1.1">0.0</text>
<text transform="translate(1166.83,447.50) scale(0.8283,1)" font-size="48.55" font-family="'Liberation Sans', Arial, sans-serif" font-weight="bold" stroke="#000" stroke-width="1.1">-0.1</text>
<text transform="translate(1167.32,567.60) scale(0.8283,1)" font-size="48.55" font-family="'Liberation Sans', Arial, sans-serif" font-weight="bold" stroke="#000" stroke-width="1.1">-0.2</text>
<text transform="translate(1279.27,682.40) scale(0.8283,1)" font-size="48.55" font-family="'Liberation Sans', Arial, sans-serif" font-weight="bold" stroke="#000" stroke-width="1.1">-0.2</text>
<text transform="translate(1399.43,682.40) scale(0.8283,1)" font-size="48.55" font-family="'Liberation Sans', Arial, sans-serif" font-weight="bold" stroke="#000" stroke-width="1.1">-0.1</text>
<text transform="translate(1534.28,682.40) scale(0.8283,1)" font-size="48.55" font-family="'Liberation Sans', Arial, sans-serif" font-weight="bold" stroke="#000" stroke-width="1.1">0.0</text>
<text transform="translate(1654.41,682.40) scale(0.8283,1)" font-size="48.55" font-family="'Liberation Sans', Arial, sans-serif" font-weight="bold" stroke="#000" stroke-width="1.1">0.1</text>
<text transform="translate(1775.06,682.40) scale(0.8283,1)" font-size="48.55" font-family="'Liberation Sans', Arial, sans-serif" font-weight="bold" stroke="#000" stroke-width="1.1">0.2</text>
<text transform="translate(1339.37,755.52) scale(0.8555,1)" font-size="47.58" font-family="'Liberation Sans', Arial, sans-serif" font-weight="bold" stroke="#000" stroke-width="1.1">principal component 1</text>
<text transform="translate(1135.72,529.34) rotate(-90) scale(0.8384,1)" font-size="48.68" font-family="'Liberation Sans', Arial, sans-serif" font-weight="bold" stroke="#000" stroke-width="1.1">principal component 2</text>
<text transform="translate(1004.77,44.23) scale(1.0158,1)" font-size="44.54" font-family="'Liberation Sans', Arial, sans-serif" font-weight="bold" stroke="#000" stroke-width="1.1">b</text>
<line x1="325.8" y1="817.1" x2="325.8" y2="1414.8" stroke="#b4b4b4" stroke-width="1.8" stroke-dasharray="1.8 3.6"/>
<line x1="426" y1="817.1" x2="426" y2="1414.8" stroke="#b4b4b4" stroke-width="1.8" stroke-dasharray="1.8 3.6"/>
<line x1="526.2" y1="817.1" x2="526.2" y2="1414.8" stroke="#b4b4b4" stroke-width="1.8" stroke-dasharray="1.8 3.6"/>
<line x1="626.4" y1="817.1" x2="626.4" y2="1414.8" stroke="#b4b4b4" stroke-width="1.8" stroke-dasharray="1.8 3.6"/>
<line x1="726.6" y1="817.1" x2="726.6" y2="1414.8" stroke="#b4b4b4" stroke-width="1.8" stroke-dasharray="1.8 3.6"/>
<line x1="227.6" y1="1316.1" x2="826" y2="1316.1" stroke="#b4b4b4" stroke-width="1.8" stroke-dasharray="1.8 3.6"/>
<line x1="227.6" y1="1215.9" x2="826" y2="1215.9" stroke="#b4b4b4" stroke-width="1.8" stroke-dasharray="1.8 3.6"/>
<line x1="227.6" y1="1115.7" x2="826" y2="1115.7" stroke="#b4b4b4" stroke-width="1.8" stroke-dasharray="1.8 3.6"/>
<line x1="227.6" y1="1015.5" x2="826" y2="1015.5" stroke="#b4b4b4" stroke-width="1.8" stroke-dasharray="1.8 3.6"/>
<line x1="227.6" y1="915.3" x2="826" y2="915.3" stroke="#b4b4b4" stroke-width="1.8" stroke-dasharray="1.8 3.6"/>
<path d="M275.7 815.1L275.7 821.6M275.7 1416.8L275.7 1411.8M325.8 815.1L325.8 826.1M325.8 1416.8L325.8 1407.5M375.9 815.1L375.9 821.6M375.9 1416.8L375.9 1411.8M426 815.1L426 826.1M426 1416.8L426 1407.5M476.1 815.1L476.1 821.6M476.1 1416.8L476.1 1411.8M526.2 815.1L526.2 826.1M526.2 1416.8L526.2 1407.5M576.3 815.1L576.3 821.6M576.3 1416.8L576.3 1411.8M626.4 815.1L626.4 826.1M626.4 1416.8L626.4 1407.5M676.5 815.1L676.5 821.6M676.5 1416.8L676.5 1411.8M726.6 815.1L726.6 826.1M726.6 1416.8L726.6 1407.5M776.7 815.1L776.7 821.6M776.7 1416.8L776.7 1411.8M826.8 815.1L826.8 826.1M826.8 1416.8L826.8 1407.5M225.6 1366.2L229.9 1366.2M828 1366.2L823.6 1366.2M225.6 1316.1L235.4 1316.1M828 1316.1L818.5 1316.1M225.6 1266L229.9 1266M828 1266L823.6 1266M225.6 1215.9L235.4 1215.9M828 1215.9L818.5 1215.9M225.6 1165.8L229.9 1165.8M828 1165.8L823.6 1165.8M225.6 1115.7L235.4 1115.7M828 1115.7L818.5 1115.7M225.6 1065.6L229.9 1065.6M828 1065.6L823.6 1065.6M225.6 1015.5L235.4 1015.5M828 1015.5L818.5 1015.5M225.6 965.4L229.9 965.4M828 965.4L823.6 965.4M225.6 915.3L235.4 915.3M828 915.3L818.5 915.3M225.6 865.2L229.9 865.2M828 865.2L823.6 865.2" stroke="#231f20" stroke-width="2.8" fill="none"/>
<rect x="225.6" y="815.1" width="602.4" height="601.7" fill="none" stroke="#231f20" stroke-width="3.0"/>
<polygon points="815.1,943.6 805.7,961.8 824.5,961.8" fill="#231f20"/><polygon points="815.1,948.4 809.8,959.4 820.4,959.4" fill="#fff"/>
<polygon points="654.4,978.4 645,996.6 663.8,996.6" fill="#231f20"/><polygon points="654.4,983.2 649.1,994.2 659.7,994.2" fill="#fff"/>
<polygon points="659.4,985.5 650,1003.7 668.8,1003.7" fill="#231f20"/><polygon points="659.4,990.3 654.1,1001.3 664.7,1001.3" fill="#fff"/>
<polygon points="482.4,1006.7 473,1024.9 491.8,1024.9" fill="#231f20"/><polygon points="482.4,1011.5 477.1,1022.5 487.7,1022.5" fill="#fff"/>
<polygon points="551.6,1000.4 542.2,1018.6 561,1018.6" fill="#231f20"/><polygon points="551.6,1005.2 546.3,1016.2 556.9,1016.2" fill="#fff"/>
<polygon points="507,1034.3 497.6,1052.5 516.4,1052.5" fill="#231f20"/><polygon points="507,1039.1 501.7,1050.1 512.3,1050.1" fill="#fff"/>
<polygon points="564.7,1037.9 555.3,1056.1 574.1,1056.1" fill="#231f20"/><polygon points="564.7,1042.7 559.4,1053.7 570,1053.7" fill="#fff"/>
<polygon points="726.2,1030.7 716.8,1048.9 735.6,1048.9" fill="#231f20"/><polygon points="726.2,1035.5 720.9,1046.5 731.5,1046.5" fill="#fff"/>
<polygon points="530.4,1062.9 521,1081.1 539.8,1081.1" fill="#231f20"/><polygon points="530.4,1067.7 525.1,1078.7 535.7,1078.7" fill="#fff"/>
<polygon points="577.9,1069 568.5,1087.2 587.3,1087.2" fill="#231f20"/><polygon points="577.9,1073.8 572.6,1084.8 583.2,1084.8" fill="#fff"/>
<polygon points="531.2,1087.9 521.8,1106.1 540.6,1106.1" fill="#231f20"/><polygon points="531.2,1092.7 525.9,1103.7 536.5,1103.7" fill="#fff"/>
<polygon points="545,1092.8 535.6,1111 554.4,1111" fill="#231f20"/><polygon points="545,1097.6 539.7,1108.6 550.3,1108.6" fill="#fff"/>
<polygon points="585.3,1095.7 575.9,1113.9 594.7,1113.9" fill="#231f20"/><polygon points="585.3,1100.5 580,1111.5 590.6,1111.5" fill="#fff"/>
<polygon points="624.3,1088.5 614.9,1106.7 633.7,1106.7" fill="#231f20"/><polygon points="624.3,1093.3 619,1104.3 629.6,1104.3" fill="#fff"/>
<polygon points="642.9,1086.7 633.5,1104.9 652.3,1104.9" fill="#231f20"/><polygon points="642.9,1091.5 637.6,1102.5 648.2,1102.5" fill="#fff"/>
<polygon points="537.5,1103.1 528.1,1121.3 546.9,1121.3" fill="#231f20"/><polygon points="537.5,1107.9 532.2,1118.9 542.8,1118.9" fill="#fff"/>
<polygon points="672.7,1096.1 663.3,1114.3 682.1,1114.3" fill="#231f20"/><polygon points="672.7,1100.9 667.4,1111.9 678,1111.9" fill="#fff"/>
<polygon points="528.4,1137.2 519,1155.4 537.8,1155.4" fill="#231f20"/><polygon points="528.4,1142 523.1,1153 533.7,1153" fill="#fff"/>
<polygon points="560.5,1138.1 551.1,1156.3 569.9,1156.3" fill="#231f20"/><polygon points="560.5,1142.9 555.2,1153.9 565.8,1153.9" fill="#fff"/>
<polygon points="700.4,1143.1 691,1161.3 709.8,1161.3" fill="#231f20"/><polygon points="700.4,1147.9 695.1,1158.9 705.7,1158.9" fill="#fff"/>
<polygon points="574.2,1162.1 564.8,1180.3 583.6,1180.3" fill="#231f20"/><polygon points="574.2,1166.9 568.9,1177.9 579.5,1177.9" fill="#fff"/>
<polygon points="589.4,1160.6 580,1178.8 598.8,1178.8" fill="#231f20"/><polygon points="589.4,1165.4 584.1,1176.4 594.7,1176.4" fill="#fff"/>
<polygon points="661.4,1159.2 652,1177.4 670.8,1177.4" fill="#231f20"/><polygon points="661.4,1164 656.1,1175 666.7,1175" fill="#fff"/>
<circle cx="339.4" cy="1037.1" r="9.6" fill="#231f20"/>
<circle cx="348.8" cy="1031.6" r="9.6" fill="#231f20"/>
<circle cx="371.7" cy="1027.2" r="9.6" fill="#231f20"/>
<circle cx="374.8" cy="1035.9" r="9.6" fill="#231f20"/>
<circle cx="397" cy="1021.6" r="9.6" fill="#231f20"/>
<circle cx="398.4" cy="1042.7" r="9.6" fill="#231f20"/>
<circle cx="405.9" cy="1053.3" r="9.6" fill="#231f20"/>
<circle cx="305.9" cy="1067" r="9.6" fill="#231f20"/>
<circle cx="302.2" cy="1069.4" r="9.6" fill="#231f20"/>
<circle cx="381.7" cy="1060.7" r="9.6" fill="#231f20"/>
<circle cx="346.9" cy="1078.1" r="9.6" fill="#231f20"/>
<circle cx="452.5" cy="1075" r="9.6" fill="#231f20"/>
<circle cx="375.5" cy="1091.8" r="9.6" fill="#231f20"/>
<circle cx="404" cy="1098" r="9.6" fill="#231f20"/>
<circle cx="463" cy="1096.1" r="9.6" fill="#231f20"/>
<circle cx="464.9" cy="1109.2" r="9.6" fill="#231f20"/>
<circle cx="310.9" cy="1099.3" r="9.6" fill="#231f20"/>
<circle cx="382.9" cy="1105.5" r="9.6" fill="#231f20"/>
<circle cx="369.3" cy="1106.7" r="9.6" fill="#231f20"/>
<circle cx="346.9" cy="1119.1" r="9.6" fill="#231f20"/>
<circle cx="356.8" cy="1122.9" r="9.6" fill="#231f20"/>
<circle cx="344.4" cy="1152" r="9.6" fill="#231f20"/>
<circle cx="427.6" cy="1152.7" r="9.6" fill="#231f20"/>
<circle cx="457.5" cy="1152" r="9.6" fill="#231f20"/>
<circle cx="351.2" cy="1164.5" r="9.6" fill="#231f20"/>
<circle cx="372.4" cy="1164.5" r="9.6" fill="#231f20"/>
<circle cx="400.9" cy="1153.3" r="9.6" fill="#231f20"/>
<circle cx="374.2" cy="1069.4" r="9.6" fill="#231f20"/>
<circle cx="380.4" cy="1079.4" r="9.6" fill="#231f20"/>
<circle cx="386.6" cy="1098" r="9.6" fill="#231f20"/>
<circle cx="361.8" cy="1085.6" r="9.6" fill="#231f20"/>
<circle cx="371.7" cy="1109.2" r="9.6" fill="#231f20"/>
<circle cx="411.5" cy="1135.3" r="9.6" fill="#231f20"/>
<circle cx="426.4" cy="1145.2" r="9.6" fill="#231f20"/>
<circle cx="298.4" cy="997.4" r="8.3" fill="#fff" stroke="#231f20" stroke-width="2.5"/>
<circle cx="411.2" cy="1009.8" r="8.3" fill="#fff" stroke="#231f20" stroke-width="2.5"/>
<circle cx="309.6" cy="1027.8" r="8.3" fill="#fff" stroke="#231f20" stroke-width="2.5"/>
<circle cx="306.9" cy="1056" r="8.3" fill="#fff" stroke="#231f20" stroke-width="2.5"/>
<circle cx="289.8" cy="1071.9" r="8.3" fill="#fff" stroke="#231f20" stroke-width="2.5"/>
<circle cx="361.2" cy="1054.5" r="8.3" fill="#fff" stroke="#231f20" stroke-width="2.5"/>
<circle cx="364.9" cy="1059.5" r="8.3" fill="#fff" stroke="#231f20" stroke-width="2.5"/>
<circle cx="395.3" cy="1061.4" r="8.3" fill="#fff" stroke="#231f20" stroke-width="2.5"/>
<circle cx="355.6" cy="1069.4" r="8.3" fill="#fff" stroke="#231f20" stroke-width="2.5"/>
<circle cx="391" cy="1078.8" r="8.3" fill="#fff" stroke="#231f20" stroke-width="2.5"/>
<circle cx="396.6" cy="1076.9" r="8.3" fill="#fff" stroke="#231f20" stroke-width="2.5"/>
<circle cx="446.9" cy="1072.5" r="8.3" fill="#fff" stroke="#231f20" stroke-width="2.5"/>
<circle cx="369.3" cy="1081.9" r="8.3" fill="#fff" stroke="#231f20" stroke-width="2.5"/>
<circle cx="336.3" cy="1084.3" r="8.3" fill="#fff" stroke="#231f20" stroke-width="2.5"/>
<circle cx="346.3" cy="1089.3" r="8.3" fill="#fff" stroke="#231f20" stroke-width="2.5"/>
<circle cx="398.4" cy="1089.9" r="8.3" fill="#fff" stroke="#231f20" stroke-width="2.5"/>
<circle cx="314.6" cy="1091.8" r="8.3" fill="#fff" stroke="#231f20" stroke-width="2.5"/>
<circle cx="320.8" cy="1094.3" r="8.3" fill="#fff" stroke="#231f20" stroke-width="2.5"/>
<circle cx="338.2" cy="1098" r="8.3" fill="#fff" stroke="#231f20" stroke-width="2.5"/>
<circle cx="369.3" cy="1098.6" r="8.3" fill="#fff" stroke="#231f20" stroke-width="2.5"/>
<circle cx="271.1" cy="1103.6" r="8.3" fill="#fff" stroke="#231f20" stroke-width="2.5"/>
<circle cx="380.4" cy="1108" r="8.3" fill="#fff" stroke="#231f20" stroke-width="2.5"/>
<circle cx="437" cy="1110.4" r="8.3" fill="#fff" stroke="#231f20" stroke-width="2.5"/>
<circle cx="320.2" cy="1121.6" r="8.3" fill="#fff" stroke="#231f20" stroke-width="2.5"/>
<circle cx="310.2" cy="1130.9" r="8.3" fill="#fff" stroke="#231f20" stroke-width="2.5"/>
<circle cx="286" cy="1132.8" r="8.3" fill="#fff" stroke="#231f20" stroke-width="2.5"/>
<circle cx="341.3" cy="1129.7" r="8.3" fill="#fff" stroke="#231f20" stroke-width="2.5"/>
<circle cx="366.8" cy="1134" r="8.3" fill="#fff" stroke="#231f20" stroke-width="2.5"/>
<circle cx="379.8" cy="1127.2" r="8.3" fill="#fff" stroke="#231f20" stroke-width="2.5"/>
<circle cx="356.2" cy="1140.2" r="8.3" fill="#fff" stroke="#231f20" stroke-width="2.5"/>
<circle cx="370.5" cy="1139" r="8.3" fill="#fff" stroke="#231f20" stroke-width="2.5"/>
<circle cx="387.9" cy="1141.5" r="8.3" fill="#fff" stroke="#231f20" stroke-width="2.5"/>
<circle cx="419.6" cy="1135.9" r="8.3" fill="#fff" stroke="#231f20" stroke-width="2.5"/>
<circle cx="400.3" cy="1146.5" r="8.3" fill="#fff" stroke="#231f20" stroke-width="2.5"/>
<circle cx="387.9" cy="1147.7" r="8.3" fill="#fff" stroke="#231f20" stroke-width="2.5"/>
<circle cx="292.2" cy="1173.8" r="8.3" fill="#fff" stroke="#231f20" stroke-width="2.5"/>
<circle cx="330.1" cy="1171.9" r="8.3" fill="#fff" stroke="#231f20" stroke-width="2.5"/>
<circle cx="398.4" cy="1171.3" r="8.3" fill="#fff" stroke="#231f20" stroke-width="2.5"/>
<circle cx="384.8" cy="1195.5" r="8.3" fill="#fff" stroke="#231f20" stroke-width="2.5"/>
<circle cx="431.4" cy="1199.3" r="8.3" fill="#fff" stroke="#231f20" stroke-width="2.5"/>
<circle cx="465.3" cy="1236.7" r="8.3" fill="#fff" stroke="#231f20" stroke-width="2.5"/>
<path d="M503 1072.3H521.6M512.3 1063V1081.6" stroke="#8a949b" stroke-width="2.3" fill="none"/>
<path d="M468.7 1133.9H487.3M478 1124.6V1143.2" stroke="#8a949b" stroke-width="2.3" fill="none"/>
<path d="M470.5 1147.6H489.1M479.8 1138.3V1156.9" stroke="#8a949b" stroke-width="2.3" fill="none"/>
<path d="M455 1164.5H473.6M464.3 1155.2V1173.8" stroke="#8a949b" stroke-width="2.3" fill="none"/>
<path d="M459.7 1176.6H478.3M469 1167.3V1185.9" stroke="#8a949b" stroke-width="2.3" fill="none"/>
<path d="M400.9 1170.1H419.5M410.2 1160.8V1179.4" stroke="#8a949b" stroke-width="2.3" fill="none"/>
<path d="M407.8 1171.9H426.4M417.1 1162.6V1181.2" stroke="#8a949b" stroke-width="2.3" fill="none"/>
<path d="M424.1 1185H442.7M433.4 1175.7V1194.3" stroke="#8a949b" stroke-width="2.3" fill="none"/>
<path d="M436.9 1183.8H455.5M446.2 1174.5V1193.1" stroke="#8a949b" stroke-width="2.3" fill="none"/>
<path d="M458.5 1202.7H477.1M467.8 1193.4V1212" stroke="#8a949b" stroke-width="2.3" fill="none"/>
<path d="M463.9 1212.9H482.5M473.2 1203.6V1222.2" stroke="#8a949b" stroke-width="2.3" fill="none"/>
<path d="M502.5 1213.4H521.1M511.8 1204.1V1222.7" stroke="#8a949b" stroke-width="2.3" fill="none"/>
<path d="M413.6 1212H432.2M422.9 1202.7V1221.3" stroke="#8a949b" stroke-width="2.3" fill="none"/>
<path d="M422.2 1221.3H440.8M431.5 1212V1230.6" stroke="#8a949b" stroke-width="2.3" fill="none"/>
<path d="M444.3 1215.3H462.9M453.6 1206V1224.6" stroke="#8a949b" stroke-width="2.3" fill="none"/>
<path d="M449.4 1226H468M458.7 1216.7V1235.3" stroke="#8a949b" stroke-width="2.3" fill="none"/>
<path d="M433.6 1229.7H452.2M442.9 1220.4V1239" stroke="#8a949b" stroke-width="2.3" fill="none"/>
<path d="M414.5 1240.9H433.1M423.8 1231.6V1250.2" stroke="#8a949b" stroke-width="2.3" fill="none"/>
<path d="M497.1 1262.8H515.7M506.4 1253.5V1272.1" stroke="#8a949b" stroke-width="2.3" fill="none"/>
<path d="M451.8 1281.4H470.4M461.1 1272.1V1290.7" stroke="#8a949b" stroke-width="2.3" fill="none"/>
<polygon points="402.2,1099.2 407.3,1114.7 423.6,1114.7 410.4,1124.4 415.4,1139.9 402.2,1130.3 389,1139.9 394,1124.4 380.8,1114.7 397.1,1114.7" fill="#f3e81c" stroke="#2a6fb3" stroke-width="2.5" stroke-linejoin="miter" stroke-miterlimit="10"/>
<text transform="translate(179.00,841.90) scale(0.7746,1)" font-size="49.41" font-family="'Liberation Sans', Arial, sans-serif" font-weight="bold" fill="#231f20" stroke="#231f20" stroke-width="1.1">6</text>
<text transform="translate(177.82,942.10) scale(0.7746,1)" font-size="49.41" font-family="'Liberation Sans', Arial, sans-serif" font-weight="bold" fill="#231f20" stroke="#231f20" stroke-width="1.1">4</text>
<text transform="translate(179.15,1042.30) scale(0.7746,1)" font-size="49.41" font-family="'Liberation Sans', Arial, sans-serif" font-weight="bold" fill="#231f20" stroke="#231f20" stroke-width="1.1">2</text>
<text transform="translate(179.19,1142.50) scale(0.7746,1)" font-size="49.41" font-family="'Liberation Sans', Arial, sans-serif" font-weight="bold" fill="#231f20" stroke="#231f20" stroke-width="1.1">0</text>
<text transform="translate(166.40,1242.70) scale(0.7746,1)" font-size="49.41" font-family="'Liberation Sans', Arial, sans-serif" font-weight="bold" fill="#231f20" stroke="#231f20" stroke-width="1.1">-2</text>
<text transform="translate(165.08,1342.90) scale(0.7746,1)" font-size="49.41" font-family="'Liberation Sans', Arial, sans-serif" font-weight="bold" fill="#231f20" stroke="#231f20" stroke-width="1.1">-4</text>
<text transform="translate(166.25,1443.10) scale(0.7746,1)" font-size="49.41" font-family="'Liberation Sans', Arial, sans-serif" font-weight="bold" fill="#231f20" stroke="#231f20" stroke-width="1.1">-6</text>
<text transform="translate(200.44,1497.00) scale(0.7746,1)" font-size="49.41" font-family="'Liberation Sans', Arial, sans-serif" font-weight="bold" fill="#231f20" stroke="#231f20" stroke-width="1.1">-4</text>
<text transform="translate(301.30,1497.00) scale(0.7746,1)" font-size="49.41" font-family="'Liberation Sans', Arial, sans-serif" font-weight="bold" fill="#231f20" stroke="#231f20" stroke-width="1.1">-2</text>
<text transform="translate(415.39,1497.00) scale(0.7746,1)" font-size="49.41" font-family="'Liberation Sans', Arial, sans-serif" font-weight="bold" fill="#231f20" stroke="#231f20" stroke-width="1.1">0</text>
<text transform="translate(515.66,1497.00) scale(0.7746,1)" font-size="49.41" font-family="'Liberation Sans', Arial, sans-serif" font-weight="bold" fill="#231f20" stroke="#231f20" stroke-width="1.1">2</text>
<text transform="translate(615.57,1497.00) scale(0.7746,1)" font-size="49.41" font-family="'Liberation Sans', Arial, sans-serif" font-weight="bold" fill="#231f20" stroke="#231f20" stroke-width="1.1">4</text>
<text transform="translate(715.95,1497.00) scale(0.7746,1)" font-size="49.41" font-family="'Liberation Sans', Arial, sans-serif" font-weight="bold" fill="#231f20" stroke="#231f20" stroke-width="1.1">6</text>
<text transform="translate(816.14,1497.00) scale(0.7746,1)" font-size="49.41" font-family="'Liberation Sans', Arial, sans-serif" font-weight="bold" fill="#231f20" stroke="#231f20" stroke-width="1.1">8</text>
<text transform="translate(337.78,1570.52) scale(0.7987,1)" font-size="50.34" font-family="'Liberation Sans', Arial, sans-serif" font-weight="bold" fill="#231f20" stroke="#231f20" stroke-width="1.1">canonical variate 1</text>
<text transform="translate(129.03,1300.93) rotate(-90) scale(0.7912,1)" font-size="51.17" font-family="'Liberation Sans', Arial, sans-serif" font-weight="bold" fill="#231f20" stroke="#231f20" stroke-width="1.1">canonical variate 2</text>
<text transform="translate(18.76,826.43) scale(0.8684,1)" font-size="40.84" font-family="'Liberation Sans', Arial, sans-serif" font-weight="bold" stroke="#000" stroke-width="1.1">c</text>
<rect x="59.7" y="1659.7" width="774.9" height="268.8" fill="none" stroke="#b3b3b3" stroke-width="2.2"/>
<polygon points="99.3,1677.6 103.3,1689.8 116,1689.8 105.7,1697.3 109.6,1709.4 99.3,1701.9 89,1709.4 92.9,1697.3 82.6,1689.8 95.3,1689.8" fill="#f3e81c" stroke="#2a6fb3" stroke-width="2.2" stroke-linejoin="miter" stroke-miterlimit="10"/>
<circle cx="99.3" cy="1734.9" r="8.8" fill="#fff" stroke="#000" stroke-width="2.2"/>
<circle cx="99.3" cy="1769.7" r="9.9" fill="#000"/>
<path d="M85.8 1806.9H112.8M99.3 1793.4V1820.4" stroke="#000" stroke-width="4.2" fill="none"/>
<path d="M85.8 1848.3H112.8M99.3 1834.8V1861.8" stroke="#8c8c8c" stroke-width="4.2" fill="none"/>
<polygon points="99.3,1870.5 84.1,1899.5 114.5,1899.5" fill="#000"/><polygon points="99.3,1879 90.7,1896 107.9,1896" fill="#fff"/>
<polygon points="478.3,1673.8 461.4,1709 495.2,1709" fill="#231f20"/>
<polygon points="478.3,1718.7 461.4,1753.9 495.2,1753.9" fill="#000"/><polygon points="478.3,1728.2 469.1,1750.7 487.5,1750.7" fill="#c0c0c0"/>
<polygon points="478.3,1761.6 461.4,1795.6 495.2,1795.6" fill="#000"/><polygon points="478.3,1771.1 469.1,1792.4 487.5,1792.4" fill="#e8252a"/>
<polygon points="479.3,1807.2 462.4,1841 496.2,1841" fill="#000"/><polygon points="479.3,1816.7 470.1,1837.8 488.5,1837.8" fill="#6fcadc"/>
<rect x="467.2" y="1860.2" width="22.8" height="22.8" fill="#e51f26" stroke="#000" stroke-width="1.6"/>
<text transform="translate(124.3,1702.8) scale(1.025,1)" font-family="'Liberation Sans', Arial, sans-serif" font-size="28.6"><tspan>KNM-ER 101000</tspan></text>
<text transform="translate(125.5,1741.7) scale(1.025,1)" font-family="'Liberation Sans', Arial, sans-serif" font-size="28.6"><tspan font-style="italic">G. gorilla</tspan></text>
<text transform="translate(125.5,1781.5) scale(1.025,1)" font-family="'Liberation Sans', Arial, sans-serif" font-size="28.6"><tspan font-style="italic">G. beringei</tspan></text>
<text transform="translate(124.5,1821.8) scale(1.025,1)" font-family="'Liberation Sans', Arial, sans-serif" font-size="28.6"><tspan font-style="italic">P. troglodytes</tspan></text>
<text transform="translate(122.0,1862.8) scale(1.025,1)" font-family="'Liberation Sans', Arial, sans-serif" font-size="28.6"><tspan font-style="italic">P. paniscus</tspan></text>
<text transform="translate(124.3,1898.4) scale(1.025,1)" font-family="'Liberation Sans', Arial, sans-serif" font-size="28.6"><tspan>recent </tspan><tspan font-style="italic">Homo sapiens</tspan></text>
<text transform="translate(501.4,1708.0) scale(1.025,1)" font-family="'Liberation Sans', Arial, sans-serif" font-size="28.6"><tspan>early </tspan><tspan font-style="italic">Homo sapiens</tspan></text>
<text transform="translate(505.0,1751.9) scale(1.025,1)" font-family="'Liberation Sans', Arial, sans-serif" font-size="28.6"><tspan font-style="italic">Homo neanderthalensis</tspan></text>
<text transform="translate(502.6,1795.3) scale(1.025,1)" font-family="'Liberation Sans', Arial, sans-serif" font-size="28.6"><tspan font-style="italic">Homo floresiensis</tspan></text>
<text transform="translate(504.2,1840.5) scale(1.025,1)" font-family="'Liberation Sans', Arial, sans-serif" font-size="28.6"><tspan font-style="italic">Homo naledi</tspan></text>
<text transform="translate(501.5,1882.3) scale(1.025,1)" font-family="'Liberation Sans', Arial, sans-serif" font-size="28.6"><tspan font-style="italic">Australopithecus</tspan><tspan> sp.</tspan></text>
<rect x="906.5" y="815.5" width="1141.3" height="402" fill="none" stroke="#bdbdbd" stroke-width="2.2"/>
<rect x="905" y="1231" width="1142.8" height="401.5" fill="none" stroke="#bdbdbd" stroke-width="2.2"/>
<rect x="902.2" y="1648.5" width="1141.8" height="401" fill="none" stroke="#bdbdbd" stroke-width="2.2"/>
<defs><linearGradient id="gTeal" x1="0" y1="0" x2="1" y2="0.3"><stop offset="0" stop-color="#2a9590"/><stop offset="0.45" stop-color="#33a0a0"/><stop offset="1" stop-color="#4aaed0"/></linearGradient><linearGradient id="gYel" x1="0" y1="0" x2="0.6" y2="1"><stop offset="0" stop-color="#c8d62a"/><stop offset="0.35" stop-color="#dfe31c"/><stop offset="1" stop-color="#e6e816"/></linearGradient><linearGradient id="gGrn" x1="0" y1="0" x2="0" y2="1"><stop offset="0" stop-color="#62c350"/><stop offset="0.45" stop-color="#8ad374"/><stop offset="1" stop-color="#78c964"/></linearGradient><radialGradient id="gPur" cx="0.55" cy="0.5" r="0.6"><stop offset="0" stop-color="#dcaade"/><stop offset="0.6" stop-color="#cf94d8"/><stop offset="1" stop-color="#bd76cc"/></radialGradient></defs>
<path d="M1187.7 947.8C1191.6 947.0 1193.4 946.5 1197.0 947.8C1200.6 949.1 1206.5 953.8 1209.4 955.5C1212.3 957.3 1211.5 957.5 1214.6 958.1C1217.7 958.7 1225.1 959.2 1228.0 959.2C1231.0 959.1 1230.8 957.3 1232.2 957.6C1233.6 957.9 1234.8 959.0 1236.3 960.7C1237.9 962.4 1239.2 965.7 1241.5 968.0C1243.7 970.2 1247.4 972.3 1249.8 974.2C1252.2 976.1 1253.9 977.8 1256.0 979.3C1258.1 980.9 1260.1 981.4 1262.2 983.5C1264.3 985.5 1267.2 989.3 1268.4 991.8C1269.6 994.2 1269.8 995.6 1269.4 998.0C1269.1 1000.4 1267.2 1003.8 1266.3 1006.3C1265.5 1008.7 1265.6 1008.0 1264.3 1012.5C1262.9 1016.9 1260.1 1027.1 1258.1 1033.2C1256.0 1039.2 1253.9 1043.5 1251.8 1048.7C1249.8 1053.9 1247.4 1059.4 1245.6 1064.2C1243.9 1069.1 1242.7 1073.9 1241.5 1077.7C1240.3 1081.5 1239.9 1084.6 1238.4 1087.0C1236.8 1089.4 1234.1 1091.1 1232.2 1092.2C1230.3 1093.2 1229.9 1093.2 1227.0 1093.2C1224.1 1093.2 1219.8 1092.6 1214.6 1092.2C1209.4 1091.7 1201.1 1091.3 1195.9 1090.6C1190.8 1089.9 1187.3 1088.3 1183.5 1088.0C1179.7 1087.8 1176.3 1089.2 1173.2 1089.1C1170.1 1088.9 1168.3 1087.5 1164.9 1087.0C1161.4 1086.5 1158.0 1086.3 1152.5 1086.0C1146.9 1085.6 1138.3 1084.8 1131.8 1084.9C1125.2 1085.1 1117.4 1085.6 1113.1 1087.0C1108.8 1088.4 1107.8 1092.0 1105.9 1093.2C1104.0 1094.4 1103.5 1094.6 1101.7 1094.2C1100.0 1093.9 1097.6 1092.3 1095.5 1091.1C1093.5 1089.9 1090.7 1090.4 1089.3 1087.0C1087.9 1083.5 1087.1 1074.2 1087.2 1070.4C1087.4 1066.6 1088.5 1068.7 1090.4 1064.2C1092.2 1059.7 1096.6 1048.7 1098.6 1043.5C1100.7 1038.3 1101.6 1036.6 1102.8 1033.2C1104.0 1029.7 1104.7 1026.3 1105.9 1022.8C1107.1 1019.4 1107.8 1015.9 1110.0 1012.5C1112.3 1009.0 1116.6 1005.6 1119.3 1002.1C1122.1 998.7 1124.0 994.9 1126.6 991.8C1129.2 988.7 1132.3 986.1 1134.9 983.5C1137.5 980.9 1139.9 978.8 1142.1 976.2C1144.4 973.6 1145.2 970.5 1148.3 968.0C1151.4 965.4 1156.6 963.3 1160.7 960.7C1164.9 958.1 1168.7 954.6 1173.2 952.4C1177.7 950.3 1183.7 948.5 1187.7 947.8Z" fill="#c47668" />
<path d="M1119.3 1002.1C1122.1 998.7 1124.0 994.9 1126.6 991.8C1129.2 988.7 1132.3 986.1 1134.9 983.5C1137.5 980.9 1140.4 977.3 1142.1 976.2C1143.8 975.2 1144.5 973.3 1145.2 977.3C1145.9 981.2 1146.4 994.2 1146.3 1000.0C1146.1 1005.9 1144.2 1006.9 1144.2 1012.5C1144.2 1018.0 1145.6 1026.3 1146.3 1033.2C1146.9 1040.1 1147.5 1045.2 1148.3 1053.9C1149.2 1062.5 1154.2 1079.8 1151.4 1084.9C1148.7 1090.0 1138.1 1084.2 1131.8 1084.4C1125.4 1084.7 1117.4 1085.2 1113.1 1086.5C1108.8 1087.8 1108.8 1091.6 1105.9 1092.2C1102.9 1092.8 1098.1 1091.3 1095.5 1090.1C1092.9 1088.9 1091.3 1087.5 1090.4 1084.9C1089.4 1082.3 1089.0 1079.8 1089.8 1074.6C1090.7 1069.4 1093.7 1059.9 1095.5 1053.9C1097.3 1047.8 1099.0 1043.5 1100.7 1038.3C1102.4 1033.2 1104.3 1027.1 1105.9 1022.8C1107.4 1018.5 1107.8 1015.9 1110.0 1012.5C1112.3 1009.0 1116.6 1005.6 1119.3 1002.1Z" fill="#8560c4" />
<path d="M1146.3 1000.0C1149.2 998.0 1154.9 1007.3 1162.8 1010.4C1170.8 1013.5 1183.9 1015.4 1193.9 1018.7C1203.9 1022.0 1215.1 1029.0 1222.9 1030.1C1230.6 1031.1 1237.5 1020.9 1240.5 1024.9C1243.4 1028.9 1241.3 1046.5 1240.5 1053.9C1239.6 1061.3 1237.2 1064.6 1235.3 1069.4C1233.4 1074.2 1232.5 1080.3 1229.1 1082.9C1225.6 1085.4 1220.1 1083.9 1214.6 1084.9C1209.1 1086.0 1201.1 1088.6 1195.9 1089.1C1190.8 1089.6 1188.7 1088.4 1183.5 1088.0C1178.3 1087.7 1170.2 1087.5 1164.9 1087.0C1159.5 1086.5 1154.2 1090.4 1151.4 1084.9C1148.7 1079.4 1149.4 1064.2 1148.3 1053.9C1147.3 1043.5 1145.6 1031.8 1145.2 1022.8C1144.9 1013.8 1143.3 1002.1 1146.3 1000.0Z" fill="#e6897a" />
<path d="M1240.5 1024.9C1244.6 1017.8 1262.4 1004.9 1265.3 1006.3C1268.2 1007.6 1261.3 1023.5 1258.1 1033.2C1254.8 1042.8 1248.9 1055.3 1245.6 1064.2C1242.4 1073.2 1240.6 1082.3 1238.4 1087.0C1236.1 1091.7 1234.1 1092.5 1232.2 1092.2C1230.3 1091.8 1226.5 1088.7 1227.0 1084.9C1227.5 1081.1 1233.0 1075.4 1235.3 1069.4C1237.5 1063.4 1239.6 1056.1 1240.5 1048.7C1241.3 1041.3 1236.3 1032.0 1240.5 1024.9Z" fill="#bf78cf" />
<path d="M1148.3 968.0C1150.9 965.4 1156.6 963.3 1160.7 960.7C1164.9 958.1 1168.7 954.3 1173.2 952.4C1177.7 950.5 1183.7 949.8 1187.7 949.3C1191.6 948.8 1193.5 947.9 1197.0 949.3C1200.4 950.7 1205.4 955.9 1208.4 957.6C1211.3 959.3 1211.3 959.2 1214.6 959.7C1217.9 960.2 1223.5 959.2 1228.0 960.7C1232.5 962.3 1236.8 965.7 1241.5 969.0C1246.1 972.3 1252.2 977.1 1256.0 980.4C1259.8 983.7 1262.7 984.3 1264.3 988.7C1265.8 993.0 1269.3 1000.6 1265.3 1006.3C1261.3 1011.9 1247.5 1018.8 1240.5 1022.8C1233.4 1026.8 1228.0 1029.7 1222.9 1030.1C1217.7 1030.4 1214.2 1026.8 1209.4 1024.9C1204.6 1023.0 1199.9 1020.7 1193.9 1018.7C1187.8 1016.6 1178.3 1013.8 1173.2 1012.5C1168.0 1011.1 1167.1 1012.3 1162.8 1010.4C1158.5 1008.5 1150.2 1005.0 1147.3 1001.1C1144.4 997.1 1145.6 990.7 1145.2 986.6C1144.9 982.4 1144.7 979.3 1145.2 976.2C1145.7 973.1 1145.7 970.5 1148.3 968.0Z" fill="url(#gTeal)" />
<path d="M1213.5 1030.1C1215.8 1027.0 1223.4 1028.9 1224.9 1031.1C1226.5 1033.3 1224.6 1039.7 1222.9 1043.5C1221.1 1047.3 1216.5 1052.8 1214.6 1053.9C1212.7 1054.9 1211.6 1053.7 1211.5 1049.7C1211.3 1045.8 1211.3 1033.2 1213.5 1030.1Z" fill="#c98d30" />
<path d="M1100.7 1094.2C1100.7 1092.6 1109.8 1086.9 1114.2 1084.9C1118.5 1082.9 1121.1 1082.4 1126.6 1082.3C1132.1 1082.3 1143.1 1083.8 1147.3 1084.4C1151.4 1085.0 1153.0 1084.8 1151.4 1086.0C1149.9 1087.1 1144.2 1089.7 1138.0 1091.1C1131.8 1092.6 1120.4 1094.2 1114.2 1094.8C1108.0 1095.3 1100.7 1095.9 1100.7 1094.2Z" fill="#3aa845" />
<path d="M1183.5 1088.0C1183.9 1087.0 1190.8 1085.8 1195.9 1084.9C1201.1 1084.1 1209.4 1083.0 1214.6 1082.9C1219.8 1082.7 1224.1 1082.3 1227.0 1083.9C1229.9 1085.4 1232.2 1090.4 1232.2 1092.2C1232.2 1093.9 1230.8 1094.1 1227.0 1094.2C1223.2 1094.4 1214.9 1093.7 1209.4 1093.2C1203.9 1092.7 1198.2 1092.0 1193.9 1091.1C1189.6 1090.3 1183.2 1089.1 1183.5 1088.0Z" fill="#3aa845" />
<g transform="translate(0 887.4) scale(1 1.025) translate(0 -887.4)">
<path d="M1542.9 887.9C1546.8 887.3 1552.8 887.1 1557.1 887.9C1561.5 888.7 1565.5 890.4 1569.0 892.6C1572.6 894.8 1575.6 897.8 1578.6 901.0C1581.5 904.1 1584.5 907.3 1586.9 911.7C1589.3 916.0 1591.5 922.6 1592.9 927.1C1594.2 931.7 1594.4 935.1 1595.2 939.0C1596.0 943.0 1596.2 946.2 1597.6 951.0C1599.0 955.7 1601.4 962.1 1603.6 967.6C1605.8 973.2 1608.1 978.7 1610.7 984.3C1613.3 989.8 1616.5 995.6 1619.0 1001.0C1621.6 1006.3 1624.4 1011.9 1626.2 1016.4C1628.0 1021.0 1629.2 1024.4 1629.8 1028.3C1630.4 1032.3 1630.4 1036.3 1629.8 1040.2C1629.2 1044.2 1628.0 1048.8 1626.2 1052.1C1624.4 1055.5 1622.6 1057.5 1619.0 1060.5C1615.5 1063.5 1610.1 1067.2 1604.8 1070.0C1599.4 1072.8 1592.9 1075.2 1586.9 1077.1C1581.0 1079.1 1575.0 1080.9 1569.0 1081.9C1563.1 1082.9 1556.7 1083.1 1551.2 1083.1C1545.6 1083.1 1539.9 1083.3 1535.7 1081.9C1531.5 1080.5 1529.4 1077.9 1526.2 1074.8C1523.0 1071.6 1520.4 1066.0 1516.7 1062.9C1512.9 1059.7 1508.7 1057.7 1503.6 1055.7C1498.4 1053.7 1491.1 1052.7 1485.7 1051.0C1480.4 1049.2 1475.6 1047.4 1471.4 1045.0C1467.3 1042.6 1462.9 1039.6 1460.7 1036.7C1458.5 1033.7 1458.1 1029.7 1458.3 1027.1C1458.5 1024.6 1460.3 1023.6 1461.9 1021.2C1463.5 1018.8 1464.9 1017.2 1467.9 1012.9C1470.8 1008.5 1476.4 1001.0 1479.8 995.0C1483.1 989.0 1485.5 983.7 1488.1 977.1C1490.7 970.6 1493.1 962.5 1495.2 955.7C1497.4 949.0 1498.8 942.6 1501.2 936.7C1503.6 930.7 1506.9 924.6 1509.5 920.0C1512.1 915.4 1513.9 913.1 1516.7 909.3C1519.4 905.5 1523.4 900.4 1526.2 897.4C1529.0 894.4 1530.6 893.0 1533.3 891.4C1536.1 889.8 1538.9 888.5 1542.9 887.9Z" fill="#c06f60" />
<path d="M1522.6 915.2C1522.8 916.9 1520.4 921.2 1519.0 924.8C1517.7 928.3 1516.1 931.9 1514.3 936.7C1512.5 941.4 1510.3 947.8 1508.3 953.3C1506.3 958.9 1504.6 964.0 1502.4 970.0C1500.2 976.0 1497.8 983.1 1495.2 989.0C1492.7 995.0 1489.7 1000.8 1486.9 1005.7C1484.1 1010.7 1482.2 1016.4 1478.6 1018.8C1474.9 1021.2 1466.7 1021.2 1464.9 1020.0C1463.1 1018.8 1465.8 1015.6 1467.9 1011.7C1469.9 1007.7 1474.4 1001.7 1477.4 996.2C1480.4 990.6 1483.1 984.7 1485.7 978.3C1488.3 972.0 1490.7 964.6 1492.9 958.1C1495.0 951.5 1496.8 944.4 1498.8 939.0C1500.8 933.7 1502.8 929.3 1504.8 926.0C1506.7 922.6 1508.5 920.7 1510.7 918.8C1512.9 916.9 1515.9 915.2 1517.9 914.6C1519.8 914.0 1522.4 913.6 1522.6 915.2Z" fill="#7c5cc6" />
<path d="M1592.9 983.1C1593.1 979.9 1596.4 979.5 1598.8 979.5C1601.2 979.5 1604.2 979.9 1607.1 983.1C1610.1 986.3 1613.9 993.6 1616.7 998.6C1619.4 1003.5 1622.2 1008.9 1623.8 1012.9C1625.4 1016.8 1626.0 1018.4 1626.2 1022.4C1626.4 1026.3 1626.2 1033.7 1625.0 1036.7C1623.8 1039.6 1622.4 1040.6 1619.0 1040.2C1615.7 1039.8 1607.3 1036.9 1604.8 1034.3C1602.2 1031.7 1604.2 1028.3 1603.6 1024.8C1603.0 1021.2 1602.2 1017.2 1601.2 1012.9C1600.2 1008.5 1599.0 1003.5 1597.6 998.6C1596.2 993.6 1592.7 986.3 1592.9 983.1Z" fill="#b87ad2" />
<path d="M1577.4 905.7C1577.8 904.9 1581.5 908.1 1583.3 910.5C1585.1 912.9 1586.7 916.4 1588.1 920.0C1589.5 923.6 1591.3 929.1 1591.7 931.9C1592.1 934.7 1591.3 937.5 1590.5 936.7C1589.7 935.9 1588.5 930.7 1586.9 927.1C1585.3 923.6 1582.5 918.8 1581.0 915.2C1579.4 911.7 1577.0 906.5 1577.4 905.7Z" fill="#b8801e" />
<path d="M1542.9 909.9C1545.2 909.1 1551.2 909.6 1554.8 910.5C1558.3 911.4 1561.7 913.5 1564.3 915.2C1566.9 917.0 1568.3 918.8 1570.2 921.2C1572.2 923.6 1574.4 926.2 1576.2 929.5C1578.0 932.9 1579.6 937.1 1581.0 941.4C1582.3 945.8 1583.3 951.2 1584.5 955.7C1585.7 960.3 1586.7 964.2 1588.1 968.8C1589.5 973.4 1591.3 978.1 1592.9 983.1C1594.4 988.1 1596.2 993.6 1597.6 998.6C1599.0 1003.5 1600.2 1008.5 1601.2 1012.9C1602.2 1017.2 1603.2 1020.8 1603.6 1024.8C1604.0 1028.7 1606.3 1034.7 1603.6 1036.7C1600.8 1038.7 1592.7 1036.9 1586.9 1036.7C1581.2 1036.5 1576.0 1035.9 1569.0 1035.5C1562.1 1035.1 1553.2 1034.7 1545.2 1034.3C1537.3 1033.9 1529.4 1032.9 1521.4 1033.1C1513.5 1033.3 1505.4 1035.5 1497.6 1035.5C1489.9 1035.5 1478.7 1035.5 1475.0 1033.1C1471.3 1030.7 1474.0 1025.6 1475.6 1021.2C1477.2 1016.8 1481.4 1012.3 1484.5 1006.9C1487.6 1001.5 1491.1 996.0 1494.0 989.0C1497.0 982.1 1499.4 973.2 1502.4 965.2C1505.4 957.3 1508.7 948.5 1511.9 941.4C1515.1 934.4 1517.5 926.4 1521.4 923.0C1525.4 919.5 1532.5 921.9 1535.7 920.6C1538.9 919.3 1539.3 917.0 1540.5 915.2C1541.7 913.5 1540.5 910.7 1542.9 909.9Z" fill="#8ed67a" />
</g>
<path d="M1791.1 972.2C1794.4 970.7 1800.4 969.9 1807.3 968.4C1814.1 967.0 1823.8 965.1 1832.1 963.5C1840.4 961.8 1848.7 960.2 1857.0 958.5C1865.2 956.9 1874.6 955.6 1881.8 953.5C1889.0 951.5 1895.3 948.6 1900.4 946.1C1905.6 943.6 1908.7 940.3 1912.9 938.6C1917.0 937.0 1921.1 936.8 1925.3 936.1C1929.4 935.5 1933.6 935.5 1937.7 934.9C1941.8 934.3 1946.0 932.9 1950.1 932.4C1954.3 931.9 1958.4 931.6 1962.5 931.8C1966.7 932.0 1970.8 931.9 1975.0 933.7C1979.1 935.4 1983.9 938.8 1987.4 942.4C1990.9 945.9 1994.0 950.2 1996.1 954.8C1998.2 959.3 1999.4 965.1 1999.8 969.7C2000.2 974.2 1999.6 977.6 1998.6 982.1C1997.5 986.7 1996.5 991.2 1993.6 997.0C1990.7 1002.8 1985.3 1011.1 1981.2 1016.9C1977.0 1022.7 1972.9 1027.7 1968.8 1031.8C1964.6 1035.9 1960.9 1038.0 1956.3 1041.7C1951.8 1045.5 1946.6 1050.4 1941.4 1054.2C1936.3 1057.9 1930.0 1061.6 1925.3 1064.1C1920.5 1066.6 1916.0 1067.6 1912.9 1069.1C1909.8 1070.5 1908.7 1072.0 1906.6 1072.8C1904.6 1073.6 1903.5 1075.1 1900.4 1074.0C1897.3 1073.0 1893.2 1069.3 1888.0 1066.6C1882.8 1063.9 1875.6 1060.6 1869.4 1057.9C1863.2 1055.2 1857.0 1052.5 1850.7 1050.4C1844.5 1048.4 1838.3 1046.7 1832.1 1045.5C1825.9 1044.2 1819.7 1043.4 1813.5 1043.0C1807.3 1042.6 1799.6 1042.8 1794.8 1043.0C1790.1 1043.2 1787.4 1045.1 1784.9 1044.2C1782.4 1043.4 1780.9 1041.1 1779.9 1038.0C1779.0 1034.9 1779.1 1030.8 1779.3 1025.6C1779.5 1020.4 1780.5 1013.0 1781.2 1007.0C1781.9 1001.0 1782.6 994.5 1783.7 989.6C1784.7 984.6 1786.1 980.0 1787.4 977.1C1788.6 974.2 1787.8 973.6 1791.1 972.2Z" fill="#d97f6e" />
<path d="M1791.1 972.2C1793.6 970.9 1800.4 969.9 1807.3 968.4C1814.1 967.0 1823.8 965.1 1832.1 963.5C1840.4 961.8 1848.7 960.2 1857.0 958.5C1865.2 956.9 1874.6 955.6 1881.8 953.5C1889.0 951.5 1895.3 948.6 1900.4 946.1C1905.6 943.6 1908.7 940.3 1912.9 938.6C1917.0 937.0 1921.1 936.7 1925.3 936.1C1929.4 935.6 1934.9 934.5 1937.7 935.5C1940.5 936.6 1941.0 939.6 1942.0 942.4C1943.1 945.2 1944.8 949.0 1943.9 952.3C1943.0 955.6 1939.2 959.1 1936.5 962.2C1933.8 965.3 1930.7 968.7 1927.8 970.9C1924.9 973.2 1922.6 974.2 1919.1 975.9C1915.5 977.6 1911.8 979.4 1906.6 980.9C1901.5 982.3 1893.8 983.5 1888.0 984.6C1882.2 985.7 1877.0 986.9 1871.9 987.7C1866.7 988.5 1862.5 989.3 1857.0 989.6C1851.4 989.9 1844.5 990.2 1838.3 989.6C1832.1 988.9 1824.9 987.1 1819.7 985.8C1814.5 984.6 1810.8 983.4 1807.3 982.1C1803.7 980.9 1801.1 979.4 1798.6 978.4C1796.1 977.3 1793.6 976.9 1792.4 975.9C1791.1 974.9 1788.6 973.4 1791.1 972.2Z" fill="#55a9cb" />
<path d="M1870.6 988.3C1872.5 985.5 1882.0 986.4 1888.0 985.2C1894.0 984.1 1900.0 983.3 1906.6 981.5C1913.3 979.7 1923.8 972.5 1927.8 974.7C1931.7 976.8 1930.0 987.1 1930.2 994.5C1930.5 1002.0 1929.8 1012.1 1929.0 1019.4C1928.2 1026.6 1926.9 1032.8 1925.3 1038.0C1923.6 1043.2 1921.3 1046.3 1919.1 1050.4C1916.8 1054.6 1915.8 1061.8 1911.6 1062.9C1907.5 1063.9 1900.2 1058.7 1894.2 1056.6C1888.2 1054.6 1880.8 1052.5 1875.6 1050.4C1870.4 1048.4 1865.0 1048.4 1863.2 1044.2C1861.3 1040.1 1862.5 1030.8 1864.4 1025.6C1866.3 1020.4 1872.3 1017.1 1874.3 1013.2C1876.4 1009.2 1877.5 1006.1 1876.8 1002.0C1876.2 997.8 1868.8 991.1 1870.6 988.3Z" fill="#d6a0dc" />
<path d="M1801.1 982.1C1802.9 980.7 1807.3 982.5 1811.0 983.4C1814.7 984.2 1819.9 985.8 1823.4 987.1C1826.9 988.3 1830.9 989.2 1832.1 990.8C1833.4 992.5 1832.1 994.7 1830.9 997.0C1829.6 999.3 1826.9 1002.4 1824.7 1004.5C1822.4 1006.5 1820.3 1008.5 1817.2 1009.4C1814.1 1010.4 1808.6 1010.9 1806.0 1010.1C1803.4 1009.2 1802.7 1007.5 1801.7 1004.5C1800.6 1001.5 1799.9 995.8 1799.8 992.0C1799.7 988.3 1799.2 983.6 1801.1 982.1Z" fill="#e2a020" />
<path d="M1784.9 1044.2C1785.9 1043.3 1790.1 1040.8 1794.8 1039.9C1799.6 1038.9 1807.3 1038.4 1813.5 1038.6C1819.7 1038.8 1825.9 1040.0 1832.1 1041.1C1838.3 1042.3 1844.5 1043.7 1850.7 1045.5C1857.0 1047.2 1863.2 1049.4 1869.4 1051.7C1875.6 1054.0 1881.8 1056.6 1888.0 1059.1C1894.2 1061.6 1902.5 1064.5 1906.6 1066.6C1910.8 1068.7 1912.9 1070.3 1912.9 1071.6C1912.9 1072.8 1908.7 1073.6 1906.6 1074.0C1904.6 1074.5 1903.5 1074.9 1900.4 1074.0C1897.3 1073.2 1893.2 1071.3 1888.0 1069.1C1882.8 1066.8 1875.6 1063.1 1869.4 1060.4C1863.2 1057.7 1857.0 1055.0 1850.7 1052.9C1844.5 1050.8 1838.3 1049.2 1832.1 1048.0C1825.9 1046.7 1819.7 1045.9 1813.5 1045.5C1807.3 1045.1 1799.0 1045.5 1794.8 1045.5C1790.7 1045.5 1790.3 1045.7 1788.6 1045.5C1787.0 1045.3 1783.9 1045.2 1784.9 1044.2Z" fill="#2f9a3c" />
<g transform="translate(0 1320.9) scale(1 1.026) translate(0 -1320.9)">
<path d="M1182.9 1326.2C1188.0 1323.6 1194.8 1322.1 1201.7 1321.4C1208.7 1320.8 1217.4 1321.3 1224.6 1322.1C1231.8 1322.9 1238.9 1324.4 1244.8 1326.2C1250.6 1327.9 1255.1 1332.0 1259.6 1332.9C1264.1 1333.8 1267.4 1331.1 1271.7 1331.5C1276.0 1332.0 1280.7 1334.0 1285.2 1335.6C1289.6 1337.1 1294.1 1338.5 1298.6 1341.0C1303.1 1343.4 1308.0 1347.0 1312.1 1350.4C1316.1 1353.7 1319.5 1357.6 1322.8 1361.1C1326.2 1364.7 1330.0 1368.3 1332.3 1371.9C1334.5 1375.5 1335.4 1379.1 1336.3 1382.7C1337.2 1386.3 1337.6 1389.4 1337.6 1393.4C1337.6 1397.5 1337.2 1402.9 1336.3 1406.9C1335.4 1410.9 1335.2 1414.8 1332.3 1417.7C1329.3 1420.6 1322.4 1422.2 1318.8 1424.4C1315.2 1426.6 1313.0 1428.2 1310.7 1431.1C1308.5 1434.0 1307.1 1437.9 1305.3 1441.9C1303.5 1445.9 1302.2 1450.9 1300.0 1455.4C1297.7 1459.8 1295.5 1464.3 1291.9 1468.8C1288.3 1473.3 1282.9 1478.5 1278.4 1482.3C1273.9 1486.1 1269.5 1488.6 1265.0 1491.7C1260.5 1494.8 1256.0 1497.8 1251.5 1501.1C1247.0 1504.5 1242.5 1508.7 1238.0 1511.9C1233.6 1515.0 1229.1 1517.7 1224.6 1520.0C1220.1 1522.2 1215.6 1524.0 1211.1 1525.3C1206.6 1526.7 1202.6 1527.6 1197.7 1528.0C1192.7 1528.5 1186.9 1528.9 1181.5 1528.0C1176.1 1527.1 1170.5 1524.9 1165.4 1522.7C1160.2 1520.4 1155.3 1518.2 1150.6 1514.6C1145.9 1511.0 1140.9 1506.1 1137.1 1501.1C1133.3 1496.2 1130.6 1490.8 1127.7 1485.0C1124.8 1479.1 1122.3 1472.9 1119.6 1466.1C1116.9 1459.4 1113.8 1451.5 1111.5 1444.6C1109.3 1437.6 1107.5 1430.7 1106.2 1424.4C1104.8 1418.1 1103.5 1412.1 1103.5 1406.9C1103.5 1401.7 1104.8 1397.0 1106.2 1393.4C1107.5 1389.9 1108.6 1389.0 1111.5 1385.4C1114.5 1381.8 1119.4 1375.9 1123.6 1371.9C1127.9 1367.9 1132.6 1364.1 1137.1 1361.1C1141.6 1358.2 1146.1 1357.1 1150.6 1354.4C1155.1 1351.7 1160.7 1347.9 1164.0 1345.0C1167.4 1342.1 1167.6 1340.1 1170.8 1336.9C1173.9 1333.8 1177.7 1328.7 1182.9 1326.2Z" fill="#d396d7" />
<path d="M1157.3 1350.4C1158.4 1348.4 1166.5 1341.0 1170.8 1336.9C1175.0 1332.9 1177.7 1328.7 1182.9 1326.2C1188.0 1323.6 1194.8 1322.1 1201.7 1321.4C1208.7 1320.8 1217.4 1321.3 1224.6 1322.1C1231.8 1322.9 1238.7 1324.2 1244.8 1326.2C1250.8 1328.1 1259.8 1331.5 1260.9 1333.6C1262.1 1335.6 1255.8 1337.3 1251.5 1338.3C1247.2 1339.3 1241.0 1339.6 1235.4 1339.6C1229.7 1339.6 1224.1 1338.3 1217.9 1338.3C1211.6 1338.3 1204.4 1338.7 1197.7 1339.6C1190.9 1340.5 1183.1 1342.1 1177.5 1343.6C1171.9 1345.2 1167.4 1347.9 1164.0 1349.0C1160.7 1350.2 1156.2 1352.4 1157.3 1350.4Z" fill="#2b6272" />
<path d="M1108.8 1393.4C1111.5 1388.5 1117.8 1381.8 1123.6 1377.3C1129.5 1372.8 1138.2 1369.4 1143.8 1366.5C1149.4 1363.6 1151.7 1362.3 1157.3 1359.8C1162.9 1357.3 1170.8 1353.7 1177.5 1351.7C1184.2 1349.7 1190.9 1348.5 1197.7 1347.7C1204.4 1346.9 1212.3 1346.8 1217.9 1347.0C1223.5 1347.2 1228.0 1347.6 1231.3 1349.0C1234.7 1350.5 1235.8 1352.8 1238.0 1355.8C1240.3 1358.7 1242.5 1362.5 1244.8 1366.5C1247.0 1370.6 1249.0 1375.9 1251.5 1380.0C1254.0 1384.0 1255.1 1388.5 1259.6 1390.8C1264.1 1393.0 1271.9 1392.8 1278.4 1393.4C1284.9 1394.1 1292.6 1394.3 1298.6 1394.8C1304.7 1395.2 1312.7 1394.1 1314.8 1396.1C1316.8 1398.2 1312.3 1403.3 1310.7 1406.9C1309.2 1410.5 1306.9 1414.1 1305.3 1417.7C1303.8 1421.3 1302.2 1424.4 1301.3 1428.4C1300.4 1432.5 1300.6 1437.0 1300.0 1441.9C1299.3 1446.8 1299.1 1453.1 1297.3 1458.0C1295.5 1463.0 1292.8 1467.0 1289.2 1471.5C1285.6 1476.0 1280.2 1481.2 1275.7 1485.0C1271.2 1488.8 1266.8 1491.2 1262.3 1494.4C1257.8 1497.5 1253.3 1500.9 1248.8 1503.8C1244.3 1506.7 1239.8 1509.6 1235.4 1511.9C1230.9 1514.1 1226.4 1515.5 1221.9 1517.3C1217.4 1519.1 1212.9 1521.1 1208.4 1522.7C1204.0 1524.2 1199.5 1526.0 1195.0 1526.7C1190.5 1527.4 1186.0 1527.6 1181.5 1526.7C1177.0 1525.8 1172.5 1524.0 1168.1 1521.3C1163.6 1518.6 1158.6 1514.4 1154.6 1510.5C1150.6 1506.7 1147.2 1502.9 1143.8 1498.4C1140.5 1493.9 1137.6 1489.2 1134.4 1483.6C1131.3 1478.0 1127.9 1471.5 1125.0 1464.8C1122.1 1458.0 1119.2 1450.0 1116.9 1443.2C1114.7 1436.5 1113.1 1430.5 1111.5 1424.4C1110.0 1418.3 1107.9 1412.1 1107.5 1406.9C1107.0 1401.7 1106.2 1398.4 1108.8 1393.4Z" fill="#8fd8e1" />
</g>
<g transform="translate(0 1324.9) scale(1 0.963) translate(0 -1324.9)">
<path d="M1453.5 1356.5C1457.0 1350.5 1465.8 1347.8 1473.6 1344.4C1481.5 1341.0 1492.7 1338.6 1500.6 1336.3C1508.4 1334.1 1511.8 1332.9 1520.8 1331.0C1529.7 1329.0 1543.2 1325.6 1554.4 1324.9C1565.6 1324.2 1576.8 1325.2 1588.0 1326.9C1599.3 1328.6 1611.6 1331.0 1621.7 1335.0C1631.8 1339.0 1640.8 1344.9 1648.6 1351.1C1656.5 1357.4 1663.2 1365.7 1668.8 1372.7C1674.4 1379.6 1679.7 1387.5 1682.3 1392.9C1684.8 1398.3 1685.2 1400.3 1684.3 1405.0C1683.4 1409.7 1681.3 1416.0 1676.9 1421.1C1672.5 1426.3 1663.4 1431.4 1658.0 1435.9C1652.7 1440.4 1649.1 1442.9 1644.6 1448.0C1640.1 1453.2 1635.6 1460.6 1631.1 1466.9C1626.6 1473.2 1622.1 1479.5 1617.7 1485.7C1613.2 1492.0 1609.6 1498.7 1604.2 1504.6C1598.8 1510.4 1592.1 1516.9 1585.4 1520.7C1578.6 1524.5 1570.6 1526.6 1563.8 1527.5C1557.1 1528.4 1551.0 1527.9 1545.0 1526.1C1538.9 1524.3 1533.1 1520.1 1527.5 1516.7C1521.9 1513.3 1515.8 1510.6 1511.3 1505.9C1506.8 1501.2 1503.5 1495.8 1500.6 1488.4C1497.6 1481.0 1496.8 1469.8 1493.8 1461.5C1490.9 1453.2 1486.9 1444.5 1483.1 1438.6C1479.3 1432.8 1474.8 1429.9 1471.0 1426.5C1467.1 1423.1 1462.9 1422.0 1460.2 1418.4C1457.5 1414.8 1456.2 1411.3 1454.8 1405.0C1453.5 1398.7 1452.3 1388.8 1452.1 1380.8C1451.9 1372.7 1449.9 1362.6 1453.5 1356.5Z" fill="#d49ad8" />
<path d="M1543.6 1328.5C1543.6 1326.7 1547.0 1325.3 1554.4 1325.0C1561.8 1324.8 1576.8 1325.4 1588.0 1327.1C1599.3 1328.7 1611.6 1331.1 1621.7 1335.1C1631.8 1339.2 1640.8 1345.0 1648.6 1351.3C1656.5 1357.6 1663.4 1366.1 1668.8 1372.8C1674.2 1379.6 1681.2 1389.6 1681.2 1391.8C1681.2 1394.0 1674.2 1389.3 1668.8 1386.1C1663.4 1383.0 1655.3 1377.2 1648.6 1372.7C1641.9 1368.2 1636.3 1363.7 1628.4 1359.2C1620.6 1354.7 1610.5 1348.9 1601.5 1345.8C1592.5 1342.6 1582.4 1342.0 1574.6 1340.4C1566.7 1338.8 1559.6 1338.0 1554.4 1336.1C1549.2 1334.1 1543.6 1330.4 1543.6 1328.5Z" fill="#2b7670" />
<path d="M1476.3 1427.9C1478.1 1424.9 1490.0 1427.4 1496.5 1425.2C1503.0 1422.9 1509.1 1417.5 1515.4 1414.4C1521.7 1411.3 1526.6 1407.9 1534.2 1406.3C1541.8 1404.8 1553.3 1404.8 1561.1 1405.0C1569.0 1405.2 1574.6 1405.9 1581.3 1407.7C1588.0 1409.5 1594.1 1412.4 1601.5 1415.7C1608.9 1419.1 1619.8 1424.0 1625.7 1427.9C1631.7 1431.7 1635.6 1434.6 1637.2 1438.6C1638.7 1442.7 1637.1 1447.4 1635.2 1452.1C1633.2 1456.8 1629.5 1462.2 1625.7 1466.9C1621.9 1471.6 1617.0 1476.1 1612.3 1480.3C1607.6 1484.6 1602.4 1488.2 1597.5 1492.5C1592.5 1496.7 1587.4 1502.1 1582.7 1505.9C1578.0 1509.7 1573.9 1512.7 1569.2 1515.3C1564.5 1518.0 1558.9 1521.0 1554.4 1522.1C1549.9 1523.2 1547.0 1523.4 1542.3 1522.1C1537.6 1520.7 1531.5 1517.1 1526.1 1514.0C1520.8 1510.9 1514.2 1507.7 1510.0 1503.2C1505.7 1498.7 1503.3 1494.0 1500.6 1487.1C1497.9 1480.1 1496.3 1468.9 1493.8 1461.5C1491.4 1454.1 1488.7 1448.3 1485.8 1442.7C1482.8 1437.1 1474.5 1430.8 1476.3 1427.9Z" fill="#8fd4f0" />
<path d="M1518.7 1411.7C1520.4 1410.3 1530.0 1407.2 1534.2 1406.6C1538.5 1405.9 1556.4 1405.1 1561.1 1405.2C1565.8 1405.4 1577.3 1406.9 1581.3 1407.9C1585.4 1409.0 1597.1 1414.0 1601.5 1416.0C1605.9 1418.0 1622.4 1425.8 1625.7 1428.1C1629.1 1430.4 1634.1 1436.5 1634.9 1438.9C1635.7 1441.3 1634.7 1449.4 1633.8 1452.1C1632.9 1454.8 1627.9 1463.1 1625.7 1465.8C1623.6 1468.5 1615.1 1476.6 1612.3 1479.3C1609.4 1481.9 1600.4 1489.8 1597.5 1492.5C1594.5 1495.1 1585.5 1503.7 1582.7 1505.9C1579.8 1508.2 1571.9 1513.8 1569.2 1515.1C1566.5 1516.4 1558.1 1519.1 1555.7 1519.1C1553.4 1519.1 1547.5 1517.3 1545.7 1515.3C1543.8 1513.4 1538.7 1503.2 1536.9 1499.2C1535.1 1495.2 1529.1 1480.1 1527.5 1475.0C1525.9 1469.9 1521.7 1453.4 1520.8 1448.0C1519.8 1442.7 1518.0 1424.8 1517.8 1421.1C1517.6 1417.5 1517.1 1413.2 1518.7 1411.7Z" fill="none" stroke="#15394a" stroke-width="1.7" stroke-dasharray="3 1.8"/>
<text x="1575.1" y="1484.2" font-family="'Liberation Sans', Arial, sans-serif" font-size="64" fill="#1a1a1a">*</text>
</g>
<g transform="translate(0 1318.9) scale(1 1.085) translate(0 -1318.9)">
<path d="M1787.8 1372.1C1789.7 1368.9 1795.3 1364.3 1799.4 1360.5C1803.5 1356.6 1807.4 1352.7 1812.3 1348.8C1817.3 1344.9 1823.8 1340.6 1829.2 1337.2C1834.6 1333.7 1838.9 1330.7 1844.7 1328.1C1850.5 1325.5 1857.6 1323.2 1864.1 1321.6C1870.6 1320.1 1877.0 1319.4 1883.5 1319.1C1890.0 1318.7 1897.5 1318.8 1902.9 1319.7C1908.3 1320.6 1911.6 1322.4 1915.9 1324.2C1920.2 1326.1 1924.5 1329.0 1928.8 1330.7C1933.1 1332.4 1936.4 1332.6 1941.7 1334.6C1947.1 1336.5 1954.7 1339.5 1961.2 1342.3C1967.6 1345.2 1975.2 1348.6 1980.6 1351.4C1986.0 1354.2 1989.2 1355.9 1993.5 1359.2C1997.8 1362.4 2003.2 1367.2 2006.4 1370.8C2009.7 1374.5 2011.2 1377.9 2012.9 1381.2C2014.6 1384.4 2015.5 1387.0 2016.8 1390.2C2018.1 1393.5 2020.0 1396.7 2020.7 1400.6C2021.3 1404.5 2021.1 1409.2 2020.7 1413.5C2020.3 1417.8 2019.4 1422.1 2018.1 1426.5C2016.8 1430.8 2014.9 1435.1 2012.9 1439.4C2011.0 1443.7 2008.2 1448.0 2006.4 1452.3C2004.7 1456.7 2004.1 1461.0 2002.6 1465.3C2001.1 1469.6 2000.0 1473.9 1997.4 1478.2C1994.8 1482.5 1990.9 1487.3 1987.0 1491.2C1983.2 1495.0 1978.4 1498.7 1974.1 1501.5C1969.8 1504.3 1966.6 1506.3 1961.2 1508.0C1955.8 1509.7 1948.2 1511.2 1941.7 1511.9C1935.3 1512.5 1928.8 1512.3 1922.3 1511.9C1915.9 1511.4 1909.4 1511.0 1902.9 1509.3C1896.5 1507.6 1890.0 1504.5 1883.5 1501.5C1877.0 1498.5 1870.6 1494.6 1864.1 1491.2C1857.6 1487.7 1850.1 1485.1 1844.7 1480.8C1839.3 1476.5 1835.4 1470.0 1831.8 1465.3C1828.1 1460.5 1825.5 1456.7 1822.7 1452.3C1819.9 1448.0 1817.7 1444.8 1814.9 1439.4C1812.1 1434.0 1808.5 1426.5 1805.9 1420.0C1803.3 1413.5 1801.6 1406.0 1799.4 1400.6C1797.3 1395.2 1794.9 1391.1 1792.9 1387.6C1791.0 1384.2 1788.6 1382.5 1787.8 1379.9C1786.9 1377.3 1785.8 1375.3 1787.8 1372.1Z" fill="#c98bd3" />
<path d="M1827.9 1359.2C1829.2 1355.7 1834.3 1348.4 1838.2 1344.9C1842.1 1341.5 1846.9 1340.2 1851.2 1338.5C1855.5 1336.7 1859.8 1335.9 1864.1 1334.6C1868.4 1333.3 1872.7 1331.8 1877.0 1330.7C1881.4 1329.6 1885.7 1328.0 1890.0 1328.1C1894.3 1328.2 1898.6 1330.1 1902.9 1331.4C1907.2 1332.6 1911.6 1334.3 1915.9 1335.9C1920.2 1337.5 1924.5 1339.3 1928.8 1341.1C1933.1 1342.8 1937.4 1344.3 1941.7 1346.2C1946.1 1348.2 1951.0 1350.5 1954.7 1352.7C1958.4 1354.9 1961.4 1356.6 1963.7 1359.2C1966.1 1361.8 1967.8 1364.3 1968.9 1368.2C1970.0 1372.1 1970.4 1378.2 1970.2 1382.5C1970.0 1386.8 1967.4 1390.7 1967.6 1394.1C1967.8 1397.6 1969.8 1399.9 1971.5 1403.2C1973.2 1406.4 1976.5 1410.1 1978.0 1413.5C1979.5 1417.0 1980.8 1420.0 1980.6 1423.9C1980.4 1427.8 1978.2 1432.9 1976.7 1436.8C1975.2 1440.7 1972.8 1443.7 1971.5 1447.2C1970.2 1450.6 1971.1 1454.9 1968.9 1457.5C1966.8 1460.1 1962.0 1461.4 1958.6 1462.7C1955.1 1464.0 1952.1 1464.4 1948.2 1465.3C1944.3 1466.1 1939.6 1466.8 1935.3 1467.9C1931.0 1468.9 1927.3 1470.7 1922.3 1471.7C1917.4 1472.8 1910.3 1475.2 1905.5 1474.3C1900.8 1473.5 1897.5 1468.9 1893.9 1466.6C1890.2 1464.2 1887.0 1462.7 1883.5 1460.1C1880.1 1457.5 1876.4 1454.1 1873.2 1451.0C1869.9 1448.0 1867.1 1446.1 1864.1 1442.0C1861.1 1437.9 1857.9 1431.6 1855.1 1426.5C1852.2 1421.3 1849.4 1416.3 1847.3 1410.9C1845.1 1405.5 1844.1 1399.7 1842.1 1394.1C1840.2 1388.5 1837.6 1382.0 1835.6 1377.3C1833.7 1372.5 1831.8 1368.7 1830.5 1365.6C1829.2 1362.6 1826.6 1362.6 1827.9 1359.2Z" fill="url(#gYel)" />
<path d="M1905.5 1474.3C1907.7 1472.8 1917.4 1472.8 1922.3 1471.7C1927.3 1470.7 1931.0 1468.9 1935.3 1467.9C1939.6 1466.8 1944.3 1466.1 1948.2 1465.3C1952.1 1464.4 1955.1 1464.0 1958.6 1462.7C1962.0 1461.4 1967.0 1456.0 1968.9 1457.5C1970.9 1459.0 1970.4 1467.2 1970.2 1471.7C1970.0 1476.3 1968.7 1481.0 1967.6 1484.7C1966.6 1488.4 1965.3 1491.2 1963.7 1493.7C1962.2 1496.3 1961.2 1498.7 1958.6 1500.2C1956.0 1501.7 1952.1 1502.4 1948.2 1502.8C1944.3 1503.2 1938.9 1503.9 1935.3 1502.8C1931.6 1501.7 1929.2 1498.9 1926.2 1496.3C1923.2 1493.7 1920.0 1489.9 1917.2 1487.3C1914.4 1484.7 1911.3 1483.0 1909.4 1480.8C1907.5 1478.7 1903.4 1475.8 1905.5 1474.3Z" fill="#79cb6e" />
</g>
<g transform="translate(0 1746.2) scale(1 1.044) translate(0 -1746.2)">
<path d="M1127.8 1766.2C1130.6 1762.6 1135.0 1758.8 1139.2 1755.9C1143.3 1753.1 1148.3 1750.6 1152.8 1749.1C1157.4 1747.6 1162.7 1746.8 1166.5 1746.8C1170.3 1746.8 1172.6 1748.2 1175.6 1749.1C1178.7 1750.1 1181.3 1751.0 1184.7 1752.5C1188.1 1754.0 1192.3 1756.1 1196.1 1758.2C1199.9 1760.3 1203.7 1762.6 1207.5 1765.1C1211.3 1767.5 1215.1 1770.6 1218.9 1773.0C1222.7 1775.5 1226.9 1777.6 1230.3 1779.9C1233.7 1782.1 1236.5 1783.8 1239.4 1786.7C1242.2 1789.5 1245.1 1793.3 1247.4 1796.9C1249.6 1800.6 1251.2 1804.5 1253.1 1808.3C1255.0 1812.1 1256.9 1815.6 1258.8 1819.7C1260.7 1823.9 1262.6 1828.6 1264.5 1833.4C1266.4 1838.1 1268.2 1843.3 1270.1 1848.2C1272.0 1853.1 1273.9 1858.3 1275.8 1863.0C1277.7 1867.8 1279.8 1872.1 1281.5 1876.7C1283.2 1881.2 1285.0 1886.2 1286.1 1890.3C1287.2 1894.5 1288.0 1897.9 1288.4 1901.7C1288.8 1905.5 1288.8 1910.5 1288.4 1913.1C1288.0 1915.8 1288.2 1915.8 1286.1 1917.7C1284.0 1919.6 1279.4 1922.2 1275.8 1924.5C1272.2 1926.8 1268.2 1929.4 1264.5 1931.3C1260.7 1933.2 1257.8 1934.6 1253.1 1935.9C1248.3 1937.2 1241.7 1938.4 1236.0 1939.3C1230.3 1940.3 1224.6 1941.0 1218.9 1941.6C1213.2 1942.2 1207.5 1942.5 1201.8 1942.7C1196.1 1942.9 1190.4 1943.3 1184.7 1942.7C1179.0 1942.2 1173.3 1940.8 1167.6 1939.3C1161.9 1937.8 1155.7 1935.7 1150.6 1933.6C1145.4 1931.5 1141.3 1929.3 1136.9 1926.8C1132.5 1924.3 1127.8 1921.9 1124.4 1918.8C1120.9 1915.8 1118.3 1911.8 1116.4 1908.6C1114.5 1905.3 1113.4 1902.9 1113.0 1899.5C1112.6 1896.0 1113.2 1892.8 1114.1 1888.1C1115.1 1883.3 1117.0 1876.7 1118.7 1871.0C1120.4 1865.3 1122.5 1859.2 1124.4 1853.9C1126.3 1848.6 1129.5 1843.8 1130.1 1839.1C1130.6 1834.3 1128.7 1830.5 1127.8 1825.4C1126.8 1820.3 1125.3 1814.0 1124.4 1808.3C1123.4 1802.6 1122.5 1796.4 1122.1 1791.3C1121.7 1786.1 1121.1 1781.8 1122.1 1777.6C1123.0 1773.4 1124.9 1769.8 1127.8 1766.2Z" fill="#a3a3a3" />
<path d="M1142.6 1822.0C1145.1 1818.8 1151.1 1815.7 1156.3 1814.0C1161.4 1812.3 1166.7 1811.9 1173.3 1811.8C1180.0 1811.6 1188.5 1812.5 1196.1 1812.9C1203.7 1813.3 1213.2 1813.1 1218.9 1814.0C1224.6 1815.0 1226.9 1816.1 1230.3 1818.6C1233.7 1821.1 1236.9 1825.2 1239.4 1828.8C1241.9 1832.4 1243.2 1836.1 1245.1 1840.2C1247.0 1844.4 1249.1 1849.3 1250.8 1853.9C1252.5 1858.5 1253.6 1863.4 1255.3 1867.6C1257.1 1871.7 1259.1 1875.9 1261.0 1879.0C1262.9 1882.0 1265.0 1883.5 1266.7 1885.8C1268.4 1888.1 1269.8 1889.6 1271.3 1892.6C1272.8 1895.7 1273.9 1901.0 1275.8 1904.0C1277.7 1907.0 1281.9 1908.6 1282.7 1910.8C1283.4 1913.1 1282.5 1915.4 1280.4 1917.7C1278.3 1920.0 1273.8 1922.6 1270.1 1924.5C1266.5 1926.4 1263.5 1928.3 1258.8 1929.1C1254.0 1929.8 1248.3 1929.6 1241.7 1929.1C1235.0 1928.5 1226.5 1926.8 1218.9 1925.6C1211.3 1924.5 1202.8 1923.6 1196.1 1922.2C1189.5 1920.9 1183.6 1920.0 1179.0 1917.7C1174.5 1915.4 1172.6 1912.0 1168.8 1908.6C1165.0 1905.1 1161.2 1900.8 1156.3 1897.2C1151.3 1893.6 1143.0 1890.3 1139.2 1886.9C1135.4 1883.5 1133.5 1880.3 1133.5 1876.7C1133.5 1873.1 1137.6 1870.0 1139.2 1865.3C1140.7 1860.5 1142.2 1853.5 1142.6 1848.2C1143.0 1842.9 1141.4 1837.8 1141.4 1833.4C1141.4 1829.0 1140.1 1825.2 1142.6 1822.0Z" fill="#c6c6c6" />
<path d="M1128.9 1766.2C1130.5 1761.5 1135.2 1759.7 1139.2 1757.1C1143.2 1754.4 1148.3 1751.9 1152.8 1750.3C1157.4 1748.6 1163.1 1747.6 1166.5 1747.4C1169.9 1747.2 1171.4 1747.5 1173.3 1749.1C1175.2 1750.7 1176.4 1754.8 1177.9 1757.1C1179.4 1759.4 1179.8 1760.9 1182.4 1762.8C1185.1 1764.7 1189.7 1766.4 1193.8 1768.5C1198.0 1770.6 1203.3 1773.4 1207.5 1775.3C1211.7 1777.2 1215.1 1778.3 1218.9 1779.9C1222.7 1781.4 1226.9 1783.1 1230.3 1784.4C1233.7 1785.7 1236.7 1785.7 1239.4 1787.8C1242.1 1789.9 1244.7 1793.5 1246.2 1796.9C1247.7 1800.4 1248.3 1805.3 1248.5 1808.3C1248.7 1811.4 1248.5 1813.7 1247.4 1815.2C1246.2 1816.7 1244.5 1817.3 1241.7 1817.4C1238.8 1817.6 1234.1 1816.9 1230.3 1816.3C1226.5 1815.7 1224.6 1814.6 1218.9 1814.0C1213.2 1813.5 1203.7 1813.3 1196.1 1812.9C1188.5 1812.5 1180.0 1811.6 1173.3 1811.8C1166.7 1811.9 1161.0 1812.7 1156.3 1814.0C1151.5 1815.4 1148.1 1817.1 1144.9 1819.7C1141.6 1822.4 1138.6 1830.0 1136.9 1830.0C1135.2 1830.0 1135.6 1824.3 1134.6 1819.7C1133.7 1815.2 1132.1 1808.3 1131.2 1802.6C1130.3 1796.9 1129.9 1791.6 1129.5 1785.6C1129.1 1779.5 1127.3 1770.9 1128.9 1766.2Z" fill="#68c858" />
<path d="M1125.5 1776.4C1125.9 1774.2 1126.8 1771.7 1127.8 1774.2C1128.7 1776.6 1130.2 1785.6 1131.2 1791.3C1132.1 1796.9 1132.7 1802.6 1133.5 1808.3C1134.2 1814.0 1135.6 1821.1 1135.8 1825.4C1135.9 1829.8 1135.6 1832.3 1134.6 1834.5C1133.7 1836.8 1131.2 1841.6 1130.1 1839.1C1128.9 1836.6 1128.3 1825.8 1127.8 1819.7C1127.2 1813.7 1127.0 1808.0 1126.6 1802.6C1126.3 1797.3 1125.7 1792.2 1125.5 1787.8C1125.3 1783.5 1125.1 1778.7 1125.5 1776.4Z" fill="#c98425" />
<path d="M1246.2 1796.9C1246.7 1795.4 1249.1 1800.4 1250.8 1803.8C1252.5 1807.2 1254.6 1812.9 1256.5 1817.4C1258.4 1822.0 1260.3 1826.0 1262.2 1831.1C1264.1 1836.2 1265.8 1842.9 1267.9 1848.2C1270.0 1853.5 1272.4 1858.3 1274.7 1863.0C1277.0 1867.8 1279.6 1872.1 1281.5 1876.7C1283.4 1881.2 1285.0 1886.2 1286.1 1890.3C1287.2 1894.5 1288.2 1899.1 1288.4 1901.7C1288.6 1904.4 1288.2 1905.7 1287.2 1906.3C1286.3 1906.9 1284.8 1905.9 1282.7 1905.1C1280.6 1904.4 1276.8 1904.0 1274.7 1901.7C1272.6 1899.5 1271.7 1894.7 1270.1 1891.5C1268.6 1888.3 1266.9 1884.5 1265.6 1882.4C1264.3 1880.3 1263.9 1881.4 1262.2 1879.0C1260.5 1876.5 1257.2 1871.7 1255.3 1867.6C1253.4 1863.4 1252.5 1858.5 1250.8 1853.9C1249.1 1849.3 1247.0 1844.4 1245.1 1840.2C1243.2 1836.1 1241.9 1832.3 1239.4 1828.8C1236.9 1825.4 1229.9 1821.6 1230.3 1819.7C1230.7 1817.8 1238.7 1818.6 1241.7 1817.4C1244.6 1816.3 1247.2 1816.3 1247.9 1812.9C1248.7 1809.5 1245.8 1798.5 1246.2 1796.9Z" fill="#4ba4cf" />
<path d="M1116.4 1891.5C1118.5 1889.2 1124.0 1886.5 1127.8 1885.8C1131.6 1885.0 1135.4 1886.0 1139.2 1886.9C1143.0 1887.9 1147.1 1889.4 1150.6 1891.5C1154.0 1893.6 1157.0 1896.6 1159.7 1899.5C1162.3 1902.3 1163.8 1905.5 1166.5 1908.6C1169.2 1911.6 1170.7 1915.4 1175.6 1917.7C1180.6 1920.0 1188.9 1920.9 1196.1 1922.2C1203.3 1923.6 1211.3 1924.7 1218.9 1925.6C1226.5 1926.6 1234.1 1928.1 1241.7 1927.9C1249.3 1927.7 1258.8 1925.8 1264.5 1924.5C1270.1 1923.2 1272.4 1921.5 1275.8 1920.0C1279.3 1918.4 1283.1 1915.8 1285.0 1915.4C1286.9 1915.0 1288.8 1916.2 1287.2 1917.7C1285.7 1919.2 1279.6 1922.2 1275.8 1924.5C1272.0 1926.8 1268.2 1929.4 1264.5 1931.3C1260.7 1933.2 1257.8 1934.6 1253.1 1935.9C1248.3 1937.2 1241.7 1938.4 1236.0 1939.3C1230.3 1940.3 1224.6 1941.0 1218.9 1941.6C1213.2 1942.2 1207.5 1942.5 1201.8 1942.7C1196.1 1942.9 1190.4 1943.3 1184.7 1942.7C1179.0 1942.2 1173.3 1940.8 1167.6 1939.3C1161.9 1937.8 1155.7 1935.7 1150.6 1933.6C1145.4 1931.5 1141.3 1929.3 1136.9 1926.8C1132.5 1924.3 1127.6 1921.9 1124.4 1918.8C1121.1 1915.8 1119.0 1911.8 1117.5 1908.6C1116.0 1905.3 1115.4 1902.3 1115.3 1899.5C1115.1 1896.6 1114.3 1893.8 1116.4 1891.5Z" fill="#b46bc6" />
</g>
<g transform="translate(0 1718.7) scale(1 1.043) translate(0 -1718.7)">
<path d="M1505.0 1736.3C1507.0 1732.3 1510.2 1729.6 1514.4 1726.9C1518.7 1724.2 1525.6 1721.5 1530.6 1720.2C1535.5 1718.8 1539.5 1718.6 1544.0 1718.8C1548.5 1719.1 1553.0 1720.2 1557.5 1721.5C1562.0 1722.9 1566.5 1724.9 1570.9 1726.9C1575.4 1728.9 1579.9 1730.7 1584.4 1733.6C1588.9 1736.6 1593.4 1740.6 1597.9 1744.4C1602.3 1748.2 1607.5 1752.7 1611.3 1756.5C1615.1 1760.3 1618.3 1763.3 1620.7 1767.3C1623.2 1771.3 1625.0 1775.8 1626.1 1780.8C1627.2 1785.7 1626.6 1792.4 1627.5 1796.9C1628.4 1801.4 1629.5 1803.6 1631.5 1807.7C1633.5 1811.7 1636.7 1816.9 1639.6 1821.1C1642.5 1825.4 1646.8 1829.7 1649.0 1833.2C1651.2 1836.8 1652.6 1838.0 1653.0 1842.7C1653.5 1847.4 1652.6 1855.0 1651.7 1861.5C1650.8 1868.0 1649.5 1876.1 1647.7 1881.7C1645.9 1887.3 1643.6 1891.1 1640.9 1895.2C1638.2 1899.2 1635.3 1902.6 1631.5 1905.9C1627.7 1909.3 1623.7 1912.7 1618.0 1915.3C1612.4 1918.0 1604.6 1919.8 1597.9 1922.1C1591.1 1924.3 1583.3 1926.3 1577.7 1928.8C1572.1 1931.3 1568.7 1935.1 1564.2 1936.9C1559.7 1938.7 1555.2 1939.3 1550.8 1939.6C1546.3 1939.8 1541.8 1939.3 1537.3 1938.2C1532.8 1937.1 1528.3 1935.3 1523.8 1932.8C1519.3 1930.4 1514.9 1927.2 1510.4 1923.4C1505.9 1919.6 1500.7 1915.3 1496.9 1910.0C1493.1 1904.6 1490.2 1898.1 1487.5 1891.1C1484.8 1884.2 1482.3 1876.5 1480.8 1868.2C1479.2 1859.9 1478.3 1850.3 1478.1 1841.3C1477.9 1832.3 1478.5 1822.3 1479.4 1814.4C1480.3 1806.6 1481.9 1800.5 1483.5 1794.2C1485.0 1787.9 1486.6 1781.9 1488.8 1776.7C1491.1 1771.6 1494.7 1767.5 1496.9 1763.3C1499.2 1759.0 1501.0 1755.6 1502.3 1751.1C1503.6 1746.7 1503.0 1740.4 1505.0 1736.3Z" fill="#a2a2a2" />
<path d="M1511.7 1767.3C1513.9 1763.5 1520.0 1759.9 1523.8 1757.9C1527.6 1755.9 1531.0 1755.4 1534.6 1755.2C1538.2 1755.0 1541.6 1755.2 1545.4 1756.5C1549.2 1757.9 1553.2 1760.1 1557.5 1763.3C1561.7 1766.4 1566.5 1771.8 1570.9 1775.4C1575.4 1779.0 1579.9 1781.7 1584.4 1784.8C1588.9 1787.9 1593.4 1791.3 1597.9 1794.2C1602.3 1797.1 1607.1 1799.4 1611.3 1802.3C1615.6 1805.2 1621.2 1807.4 1623.4 1811.7C1625.7 1816.0 1624.6 1821.8 1624.8 1827.9C1625.0 1833.9 1624.6 1841.3 1624.8 1848.0C1625.0 1854.8 1626.3 1862.2 1626.1 1868.2C1625.9 1874.3 1624.8 1879.9 1623.4 1884.4C1622.1 1888.9 1620.1 1892.2 1618.0 1895.2C1616.0 1898.1 1614.0 1899.6 1611.3 1901.9C1608.6 1904.1 1605.3 1906.8 1601.9 1908.6C1598.5 1910.4 1595.2 1911.3 1591.1 1912.7C1587.1 1914.0 1582.2 1915.6 1577.7 1916.7C1573.2 1917.8 1568.7 1918.9 1564.2 1919.4C1559.7 1919.8 1554.8 1920.5 1550.8 1919.4C1546.7 1918.3 1543.6 1915.3 1540.0 1912.7C1536.4 1910.0 1532.4 1906.8 1529.2 1903.2C1526.1 1899.6 1523.4 1895.4 1521.1 1891.1C1518.9 1886.9 1517.1 1883.7 1515.8 1877.7C1514.4 1871.6 1513.7 1863.1 1513.1 1854.8C1512.4 1846.5 1511.9 1836.8 1511.7 1827.9C1511.5 1818.9 1511.8 1808.8 1511.7 1800.9C1511.6 1793.1 1511.0 1786.4 1511.0 1780.8C1511.0 1775.1 1509.6 1771.1 1511.7 1767.3Z" fill="url(#gGrn)" />
<path d="M1503.6 1780.8C1505.0 1776.3 1509.0 1776.3 1510.4 1780.8C1511.7 1785.2 1511.3 1798.7 1511.7 1807.7C1512.2 1816.6 1512.6 1825.6 1513.1 1834.6C1513.5 1843.6 1514.0 1853.0 1514.4 1861.5C1514.9 1870.0 1516.4 1882.6 1515.8 1885.7C1515.1 1888.9 1512.6 1882.1 1510.4 1880.3C1508.1 1878.6 1504.3 1878.1 1502.3 1875.0C1500.3 1871.8 1498.7 1868.2 1498.3 1861.5C1497.8 1854.8 1498.9 1843.6 1499.6 1834.6C1500.3 1825.6 1501.6 1816.6 1502.3 1807.7C1503.0 1798.7 1502.3 1785.2 1503.6 1780.8Z" fill="#c07a22" />
<path d="M1623.4 1811.7C1624.7 1810.8 1628.6 1812.8 1631.5 1815.7C1634.4 1818.7 1638.7 1825.8 1640.9 1829.2C1643.2 1832.6 1643.2 1833.7 1645.0 1835.9C1646.8 1838.2 1650.3 1838.4 1651.7 1842.7C1653.0 1846.9 1653.5 1855.0 1653.0 1861.5C1652.6 1868.0 1650.8 1876.1 1649.0 1881.7C1647.2 1887.3 1644.5 1891.3 1642.3 1895.2C1640.0 1899.0 1638.0 1902.1 1635.5 1904.6C1633.1 1907.0 1630.4 1908.4 1627.5 1910.0C1624.6 1911.5 1621.9 1913.1 1618.0 1914.0C1614.2 1914.9 1607.3 1915.3 1604.6 1915.3C1601.9 1915.3 1600.8 1916.0 1601.9 1914.0C1603.0 1912.0 1608.4 1906.6 1611.3 1903.2C1614.2 1899.9 1617.2 1897.4 1619.4 1893.8C1621.6 1890.2 1623.7 1887.1 1624.8 1881.7C1625.9 1876.3 1626.1 1869.4 1626.1 1861.5C1626.1 1853.7 1625.1 1841.3 1624.8 1834.6C1624.4 1827.9 1624.3 1824.9 1624.1 1821.1C1623.9 1817.3 1622.2 1812.6 1623.4 1811.7Z" fill="#529fd0" />
</g>
<g transform="translate(0 1734.0) scale(1 1.06) translate(0 -1734.0)">
<path d="M1867.2 1743.6C1871.3 1741.3 1877.1 1738.8 1882.1 1737.4C1887.1 1735.9 1892.9 1734.9 1897.0 1734.9C1901.2 1734.9 1903.2 1735.9 1907.0 1737.4C1910.7 1738.8 1915.2 1741.7 1919.4 1743.6C1923.5 1745.5 1926.6 1746.5 1931.8 1748.6C1937.0 1750.6 1944.2 1753.5 1950.4 1756.0C1956.6 1758.5 1963.9 1761.6 1969.1 1763.5C1974.2 1765.3 1977.3 1764.9 1981.5 1767.2C1985.6 1769.5 1990.6 1773.4 1993.9 1777.1C1997.2 1780.9 1998.9 1785.0 2001.4 1789.6C2003.9 1794.1 2006.7 1799.5 2008.8 1804.5C2010.9 1809.4 2012.8 1814.8 2013.8 1819.4C2014.8 1823.9 2014.8 1827.7 2015.0 1831.8C2015.2 1835.9 2015.7 1840.1 2015.0 1844.2C2014.4 1848.4 2013.2 1852.9 2011.3 1856.6C2009.4 1860.4 2007.2 1863.5 2003.9 1866.6C2000.5 1869.7 1995.2 1872.2 1991.4 1875.3C1987.7 1878.4 1983.4 1881.1 1981.5 1885.2C1979.6 1889.4 1981.3 1896.6 1980.2 1900.1C1979.2 1903.6 1978.2 1904.5 1975.3 1906.3C1972.4 1908.2 1968.0 1909.2 1962.9 1911.3C1957.7 1913.4 1950.4 1916.3 1944.2 1918.8C1938.0 1921.2 1931.8 1923.7 1925.6 1926.2C1919.4 1928.7 1913.2 1931.6 1907.0 1933.7C1900.7 1935.7 1893.9 1937.8 1888.3 1938.6C1882.7 1939.5 1878.0 1939.3 1873.4 1938.6C1868.9 1938.0 1864.3 1937.0 1861.0 1934.9C1857.7 1932.8 1855.4 1929.9 1853.5 1926.2C1851.7 1922.5 1851.3 1917.9 1849.8 1912.5C1848.4 1907.2 1846.3 1900.1 1844.8 1893.9C1843.4 1887.7 1842.2 1881.5 1841.1 1875.3C1840.1 1869.1 1839.2 1862.9 1838.6 1856.6C1838.1 1850.4 1837.9 1844.2 1838.0 1838.0C1838.1 1831.8 1838.8 1825.6 1839.3 1819.4C1839.7 1813.2 1840.1 1807.0 1840.5 1800.7C1840.9 1794.5 1840.4 1788.1 1841.7 1782.1C1843.1 1776.1 1846.0 1769.9 1848.6 1764.7C1851.2 1759.5 1854.2 1754.6 1857.3 1751.1C1860.4 1747.5 1863.1 1745.9 1867.2 1743.6Z" fill="#9e9e9e" />
<path d="M1868.4 1744.8C1872.6 1743.8 1880.7 1745.3 1884.6 1746.1C1888.5 1746.9 1890.0 1747.3 1892.0 1749.8C1894.1 1752.3 1894.5 1758.8 1897.0 1761.0C1899.5 1763.2 1903.6 1763.1 1907.0 1762.9C1910.3 1762.7 1912.8 1760.7 1916.9 1759.8C1921.0 1758.8 1926.2 1757.1 1931.8 1757.3C1937.4 1757.5 1945.3 1759.5 1950.4 1761.0C1955.6 1762.4 1958.7 1764.1 1962.9 1766.0C1967.0 1767.8 1971.6 1769.5 1975.3 1772.2C1979.0 1774.9 1982.1 1778.8 1985.2 1782.1C1988.3 1785.4 1991.0 1787.9 1993.9 1792.0C1996.8 1796.2 2000.1 1802.0 2002.6 1807.0C2005.1 1811.9 2007.4 1816.7 2008.8 1821.9C2010.3 1827.0 2011.3 1832.6 2011.3 1838.0C2011.3 1843.4 2010.3 1849.4 2008.8 1854.2C2007.4 1858.9 2005.1 1863.1 2002.6 1866.6C2000.1 1870.1 1997.4 1872.4 1993.9 1875.3C1990.4 1878.2 1985.6 1881.7 1981.5 1884.0C1977.3 1886.3 1973.2 1887.3 1969.1 1888.9C1964.9 1890.6 1960.2 1891.0 1956.6 1893.9C1953.1 1896.8 1951.1 1902.6 1948.0 1906.3C1944.8 1910.1 1941.7 1914.0 1938.0 1916.3C1934.3 1918.6 1930.8 1919.0 1925.6 1920.0C1920.4 1921.0 1913.2 1921.7 1907.0 1922.5C1900.7 1923.3 1894.5 1924.3 1888.3 1925.0C1882.1 1925.6 1874.5 1926.8 1869.7 1926.2C1864.9 1925.6 1862.4 1923.5 1859.8 1921.2C1857.1 1919.0 1855.4 1917.1 1853.5 1912.5C1851.7 1908.0 1850.2 1900.1 1848.6 1893.9C1846.9 1887.7 1844.8 1881.5 1843.6 1875.3C1842.4 1869.1 1841.5 1862.9 1841.1 1856.6C1840.7 1850.4 1841.0 1844.2 1841.1 1838.0C1841.2 1831.8 1841.3 1825.6 1841.7 1819.4C1842.2 1813.2 1842.9 1807.0 1843.6 1800.7C1844.3 1794.5 1844.8 1787.7 1846.1 1782.1C1847.3 1776.5 1848.8 1772.2 1851.1 1767.2C1853.3 1762.2 1856.9 1756.0 1859.8 1752.3C1862.7 1748.6 1864.3 1745.9 1868.4 1744.8Z" fill="url(#gPur)" />
</g>
<text transform="translate(943.18,885.33) scale(1.0541,1)" font-size="43.30" font-family="'Liberation Sans', Arial, sans-serif" font-weight="bold" stroke="#000" stroke-width="1.1">d</text>
<text transform="translate(944.88,1309.82) scale(1.0541,1)" font-size="40.47" font-family="'Liberation Sans', Arial, sans-serif" font-weight="bold" stroke="#000" stroke-width="1.1">e</text>
<text transform="translate(953.25,1714.82) scale(1.0723,1)" font-size="43.71" font-family="'Liberation Sans', Arial, sans-serif" font-weight="bold" stroke="#000" stroke-width="1.1">f</text>
<text transform="translate(1254.36,874.83) scale(0.8347,1)" font-size="40.54" font-family="'Liberation Sans', Arial, sans-serif" font-weight="bold" stroke="#000" stroke-width="1.1">distal</text>
<polygon points="1299.5,899.7 1315.5,930.6 1305,930.6 1305,969.6 1294,969.6 1294,930.6 1283.5,930.6" fill="#000"/>
<rect x="931" y="1045.6" width="128.5" height="16.2" fill="#000"/>
<text transform="translate(936.90,1036.92) scale(0.8150,1)" font-size="41.93" font-family="'Liberation Sans', Arial, sans-serif" font-weight="bold" stroke="#000" stroke-width="1.1">10 mm</text>
<text transform="translate(1075.80,1153.92) scale(0.8936,1)" font-size="38.19" font-family="'Liberation Sans', Arial, sans-serif" font-weight="bold" stroke="#000" stroke-width="1.1">palmar view</text>
<text transform="translate(1592.70,875.12) scale(0.8386,1)" font-size="40.68" font-family="'Liberation Sans', Arial, sans-serif" font-weight="bold" stroke="#000" stroke-width="1.1">palmar</text>
<polygon points="1658.5,899.6 1674.5,930.3 1664,930.3 1664,969.8 1653,969.8 1653,930.3 1642.5,930.3" fill="#000"/>
<text transform="translate(1807.72,882.83) scale(0.8476,1)" font-size="39.99" font-family="'Liberation Sans', Arial, sans-serif" font-weight="bold" stroke="#000" stroke-width="1.1">palmar</text>
<polygon points="1928.6,873.5 1960.2,858 1960.2,868 1999.1,868 1999.1,879 1960.2,879 1960.2,889" fill="#000"/>
<text transform="translate(1450.91,1153.32) scale(0.9108,1)" font-size="37.36" font-family="'Liberation Sans', Arial, sans-serif" font-weight="bold" stroke="#000" stroke-width="1.1">proximal view</text>
<text transform="translate(1810.94,1153.32) scale(0.9086,1)" font-size="37.36" font-family="'Liberation Sans', Arial, sans-serif" font-weight="bold" stroke="#000" stroke-width="1.1">ulnar view</text>
<text transform="translate(1030.79,1306.82) scale(0.8468,1)" font-size="40.40" font-family="'Liberation Sans', Arial, sans-serif" font-weight="bold" stroke="#000" stroke-width="1.1">radial</text>
<polygon points="1076.1,1336.5 1092.1,1367.7 1081.6,1367.7 1081.6,1406.1 1070.6,1406.1 1070.6,1367.7 1060.1,1367.7" fill="#000"/>
<rect x="931" y="1488.1" width="111.7" height="16.2" fill="#000"/>
<text transform="translate(932.49,1476.42) scale(0.8721,1)" font-size="37.49" font-family="'Liberation Sans', Arial, sans-serif" font-weight="bold" stroke="#000" stroke-width="1.1">10 mm</text>
<text transform="translate(1080.90,1587.52) scale(0.9398,1)" font-size="36.26" font-family="'Liberation Sans', Arial, sans-serif" font-weight="bold" stroke="#000" stroke-width="1.1">proximal view</text>
<text transform="translate(1332.19,1306.82) scale(0.8485,1)" font-size="40.40" font-family="'Liberation Sans', Arial, sans-serif" font-weight="bold" stroke="#000" stroke-width="1.1">proximal</text>
<polygon points="1407.3,1336.5 1423.3,1367.7 1412.8,1367.7 1412.8,1406.1 1401.8,1406.1 1401.8,1367.7 1391.3,1367.7" fill="#000"/>
<text transform="translate(1450.31,1588.12) scale(0.9178,1)" font-size="37.09" font-family="'Liberation Sans', Arial, sans-serif" font-weight="bold" stroke="#000" stroke-width="1.1">radial view</text>
<text transform="translate(1718.05,1306.72) scale(0.8445,1)" font-size="40.40" font-family="'Liberation Sans', Arial, sans-serif" font-weight="bold" stroke="#000" stroke-width="1.1">distal</text>
<polygon points="1759,1336.4 1775,1368 1764.5,1368 1764.5,1406.6 1753.5,1406.6 1753.5,1368 1743,1368" fill="#000"/>
<text transform="translate(1825.85,1588.12) scale(0.9120,1)" font-size="37.09" font-family="'Liberation Sans', Arial, sans-serif" font-weight="bold" stroke="#000" stroke-width="1.1">ulnar view</text>
<text transform="translate(1026.84,1722.32) scale(0.8515,1)" font-size="40.40" font-family="'Liberation Sans', Arial, sans-serif" font-weight="bold" stroke="#000" stroke-width="1.1">distal</text>
<polygon points="1068.1,1757.1 1084.1,1788.6 1073.6,1788.6 1073.6,1827.6 1062.6,1827.6 1062.6,1788.6 1052.1,1788.6" fill="#000"/>
<rect x="919" y="1898.2" width="116.5" height="15.9" fill="#000"/>
<text transform="translate(925.01,1887.42) scale(0.8642,1)" font-size="37.49" font-family="'Liberation Sans', Arial, sans-serif" font-weight="bold" stroke="#000" stroke-width="1.1">10 mm</text>
<text transform="translate(1089.91,2006.62) scale(1.0293,1)" font-size="32.95" font-family="'Liberation Sans', Arial, sans-serif" font-weight="bold" stroke="#000" stroke-width="1.1">palmar view</text>
<text transform="translate(1333.98,1722.32) scale(1.0708,1)" font-size="32.12" font-family="'Liberation Sans', Arial, sans-serif" font-weight="bold" stroke="#000" stroke-width="1.1">palmar</text>
<polygon points="1400.4,1747.5 1416.4,1778.7 1405.9,1778.7 1405.9,1817.1 1394.9,1817.1 1394.9,1778.7 1384.4,1778.7" fill="#000"/>
<text transform="translate(1730.75,1722.62) scale(0.8294,1)" font-size="41.23" font-family="'Liberation Sans', Arial, sans-serif" font-weight="bold" stroke="#000" stroke-width="1.1">dorsal</text>
<polygon points="1780,1746.9 1796,1779.2 1785.5,1779.2 1785.5,1817.7 1774.5,1817.7 1774.5,1779.2 1764,1779.2" fill="#000"/>
<text transform="translate(1489.76,2006.62) scale(0.9082,1)" font-size="37.36" font-family="'Liberation Sans', Arial, sans-serif" font-weight="bold" stroke="#000" stroke-width="1.1">distal view</text>
<text transform="translate(1803.61,2006.62) scale(0.9092,1)" font-size="37.36" font-family="'Liberation Sans', Arial, sans-serif" font-weight="bold" stroke="#000" stroke-width="1.1">proximal view</text>
</svg>
</body></html>
